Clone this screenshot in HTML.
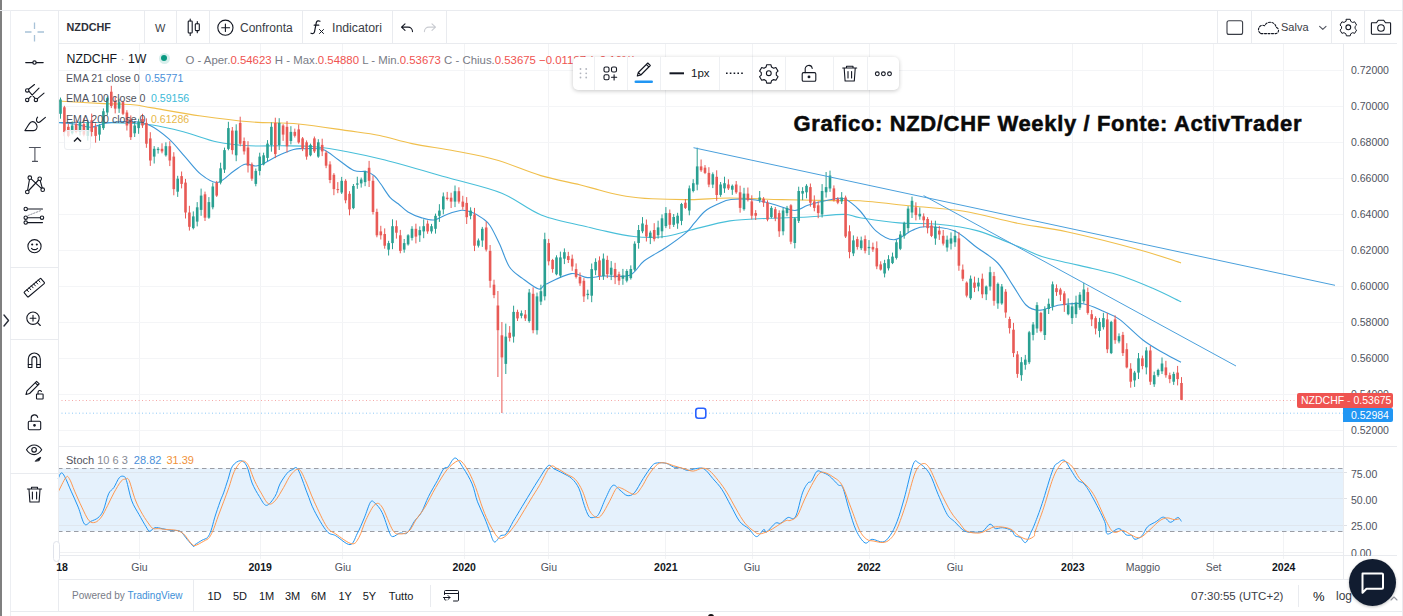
<!DOCTYPE html>
<html><head><meta charset="utf-8">
<style>
*{margin:0;padding:0;box-sizing:border-box}
html,body{width:1403px;height:616px;overflow:hidden;background:#fff;font-family:"Liberation Sans",sans-serif;color:#131722}
.a{position:absolute;white-space:nowrap}
.ln{position:absolute;background:#e9ebef}
.ax{position:absolute;font-size:10.5px;color:#50535e;white-space:nowrap}
.tl{position:absolute;font-size:10.5px;color:#50535e;white-space:nowrap;transform:translateX(-50%)}
.hd{position:absolute;font-size:13px;color:#3a3d46;white-space:nowrap}
.ico{position:absolute}
</style></head><body>
<svg width="1403" height="616" style="position:absolute;left:0;top:0">
<g shape-rendering="crispEdges"><line x1="139.5" y1="44" x2="139.5" y2="559" stroke="#f2f3f5" stroke-width="1"/>
<line x1="260.2" y1="44" x2="260.2" y2="559" stroke="#f2f3f5" stroke-width="1"/>
<line x1="342.9" y1="44" x2="342.9" y2="559" stroke="#f2f3f5" stroke-width="1"/>
<line x1="464.2" y1="44" x2="464.2" y2="559" stroke="#f2f3f5" stroke-width="1"/>
<line x1="548.8" y1="44" x2="548.8" y2="559" stroke="#f2f3f5" stroke-width="1"/>
<line x1="665.8" y1="44" x2="665.8" y2="559" stroke="#f2f3f5" stroke-width="1"/>
<line x1="752" y1="44" x2="752" y2="559" stroke="#f2f3f5" stroke-width="1"/>
<line x1="869" y1="44" x2="869" y2="559" stroke="#f2f3f5" stroke-width="1"/>
<line x1="954.8" y1="44" x2="954.8" y2="559" stroke="#f2f3f5" stroke-width="1"/>
<line x1="1072.8" y1="44" x2="1072.8" y2="559" stroke="#f2f3f5" stroke-width="1"/>
<line x1="1142.9" y1="44" x2="1142.9" y2="559" stroke="#f2f3f5" stroke-width="1"/>
<line x1="1213.6" y1="44" x2="1213.6" y2="559" stroke="#f2f3f5" stroke-width="1"/>
<line x1="1283.7" y1="44" x2="1283.7" y2="559" stroke="#f2f3f5" stroke-width="1"/>
<line x1="58" y1="70" x2="1343" y2="70" stroke="#f4f5f7" stroke-width="1"/>
<line x1="58" y1="106" x2="1343" y2="106" stroke="#f4f5f7" stroke-width="1"/>
<line x1="58" y1="142" x2="1343" y2="142" stroke="#f4f5f7" stroke-width="1"/>
<line x1="58" y1="178" x2="1343" y2="178" stroke="#f4f5f7" stroke-width="1"/>
<line x1="58" y1="214" x2="1343" y2="214" stroke="#f4f5f7" stroke-width="1"/>
<line x1="58" y1="250" x2="1343" y2="250" stroke="#f4f5f7" stroke-width="1"/>
<line x1="58" y1="286" x2="1343" y2="286" stroke="#f4f5f7" stroke-width="1"/>
<line x1="58" y1="322" x2="1343" y2="322" stroke="#f4f5f7" stroke-width="1"/>
<line x1="58" y1="358" x2="1343" y2="358" stroke="#f4f5f7" stroke-width="1"/>
<line x1="58" y1="394" x2="1343" y2="394" stroke="#f4f5f7" stroke-width="1"/>
<line x1="58" y1="430" x2="1343" y2="430" stroke="#f4f5f7" stroke-width="1"/></g>
<rect x="58" y="468.3" width="1285" height="63" fill="#e5f1fc"/>
<g shape-rendering="crispEdges"><line x1="58" y1="472.5" x2="1343" y2="472.5" stroke="#dfe6ee"/><line x1="58" y1="498.5" x2="1343" y2="498.5" stroke="#dfe6ee"/><line x1="58" y1="525.5" x2="1343" y2="525.5" stroke="#dfe6ee"/><line x1="58" y1="552.5" x2="1343" y2="552.5" stroke="#f0f1f3"/>
<line x1="1343" y1="472.5" x2="1347" y2="472.5" stroke="#dfe1e6"/><line x1="1343" y1="498.5" x2="1347" y2="498.5" stroke="#dfe1e6"/><line x1="1343" y1="525.5" x2="1347" y2="525.5" stroke="#dfe1e6"/></g>
<line x1="58" y1="468.5" x2="1343" y2="468.5" stroke="#9a9da5" stroke-width="1" stroke-dasharray="4.5,3.5"/>
<line x1="58" y1="531.5" x2="1343" y2="531.5" stroke="#9a9da5" stroke-width="1" stroke-dasharray="4.5,3.5"/>
<path d="M58.2 478.6 C58.7 477.6 60.1 473.2 61.2 472.9 C62.4 472.6 63.2 473.8 64.8 476.8 C66.5 479.8 68.8 486.0 71.1 491.1 C73.3 496.1 76.0 501.6 78.2 507.1 C80.4 512.6 82.4 521.7 84.5 524.1 C86.5 526.5 88.5 522.5 90.7 521.4 C92.9 520.4 95.8 519.6 97.9 517.9 C99.9 516.1 101.4 514.7 103.2 510.7 C105.0 506.7 106.8 497.6 108.6 493.8 C110.4 489.9 112.1 490.2 113.9 487.5 C115.7 484.8 117.6 479.5 119.3 477.7 C120.9 475.8 122.6 476.0 123.8 476.4 C124.9 476.9 125.1 476.3 126.4 480.4 C127.8 484.4 129.7 495.2 131.8 500.9 C133.9 506.5 136.5 510.0 138.9 514.3 C141.3 518.6 144.3 524.0 146.1 526.8 C147.9 529.6 148.2 531.1 149.6 531.2 C151.1 531.4 152.9 528.1 155.0 527.7 C157.1 527.2 159.5 528.1 162.1 528.6 C164.8 529.0 168.1 529.9 171.1 530.4 C174.0 530.8 177.3 529.8 180.0 531.2 C182.7 532.7 184.9 536.8 187.1 539.3 C189.4 541.8 192.1 545.5 193.4 546.4 C194.7 547.3 193.5 545.7 195.0 544.6 C196.5 543.6 200.1 541.4 202.1 540.2 C204.2 539.0 206.0 539.1 207.5 537.5 C209.0 535.9 209.9 533.6 211.1 530.4 C212.3 527.1 213.2 522.6 214.6 517.9 C216.1 513.1 218.5 506.0 220.0 501.8 C221.5 497.6 222.2 496.6 223.6 492.9 C224.9 489.1 226.5 483.9 228.0 479.5 C229.5 475.0 230.4 469.2 232.5 466.1 C234.6 462.9 238.2 460.7 240.5 460.7 C242.9 460.7 244.9 462.4 246.8 466.1 C248.7 469.8 250.1 478.0 252.1 483.0 C254.2 488.1 256.9 492.7 259.3 496.4 C261.7 500.1 263.8 505.4 266.4 505.4 C269.0 505.4 272.7 500.0 275.0 496.4 C277.3 492.9 278.0 487.8 280.0 483.9 C282.0 480.1 285.1 475.6 287.1 473.2 C289.2 470.8 290.7 470.3 292.5 469.6 C294.3 469.0 295.4 465.4 297.9 469.3 C300.3 473.2 304.4 486.0 307.1 492.9 C309.9 499.8 311.0 504.3 314.3 510.7 C317.6 517.1 323.2 527.1 326.8 531.2 C330.4 535.4 331.8 533.5 335.7 535.7 C339.6 537.9 346.4 544.9 350.0 544.6 C353.6 544.3 354.8 538.4 357.1 533.9 C359.5 529.5 362.1 523.2 364.3 517.9 C366.5 512.6 368.8 504.6 370.5 502.1 C372.3 499.7 373.1 501.5 375.0 503.2 C376.9 504.9 379.8 507.7 382.1 512.5 C384.5 517.3 387.5 528.1 389.3 532.1 C391.1 536.2 391.1 536.5 392.9 536.6 C394.6 536.8 397.6 533.6 400.0 533.0 C402.4 532.4 404.8 535.0 407.1 533.0 C409.5 531.1 411.9 524.9 414.3 521.4 C416.7 518.0 419.0 516.7 421.4 512.5 C423.8 508.3 425.9 501.8 428.6 496.4 C431.2 491.1 435.4 484.2 437.5 480.4 C439.6 476.5 439.9 475.3 441.1 473.2 C442.2 471.1 443.3 468.9 444.5 467.9 C445.6 466.8 446.3 468.6 448.0 467.0 C449.8 465.3 452.6 457.9 455.2 458.0 C457.7 458.2 460.4 463.5 463.2 467.9 C466.0 472.2 469.8 478.3 472.1 483.9 C474.5 489.6 475.4 496.1 477.5 501.8 C479.6 507.4 482.6 512.8 484.6 517.9 C486.7 522.9 488.4 528.1 490.0 532.1 C491.6 536.2 492.7 541.4 494.5 542.0 C496.2 542.6 498.8 537.1 500.7 535.7 C502.6 534.4 504.0 536.3 506.1 533.9 C508.2 531.5 511.0 525.3 513.2 521.4 C515.5 517.6 516.8 515.5 519.6 510.7 C522.5 506.0 527.1 498.2 530.4 492.9 C533.6 487.5 536.3 483.1 539.3 478.6 C542.3 474.0 545.8 467.4 548.2 465.7 C550.7 464.1 551.5 467.5 553.9 468.8 C556.4 470.0 559.9 471.6 562.9 473.2 C565.8 474.9 569.1 476.0 571.8 478.6 C574.5 481.1 576.8 483.9 578.9 488.4 C581.0 492.9 582.6 500.7 584.3 505.4 C585.9 510.0 587.3 514.0 588.8 516.1 C590.2 518.1 591.6 517.8 593.2 517.5 C594.9 517.2 596.5 517.5 598.6 514.3 C600.7 511.1 603.3 503.0 605.7 498.2 C608.1 493.4 610.5 486.7 612.9 485.4 C615.2 484.0 617.6 488.5 620.0 490.2 C622.4 491.9 624.8 495.1 627.1 495.5 C629.5 496.0 631.6 495.7 634.3 492.9 C637.0 490.0 640.2 483.1 643.2 478.6 C646.2 474.0 649.8 468.3 652.1 465.7 C654.5 463.1 655.1 463.2 657.5 462.9 C659.9 462.5 663.8 462.7 666.4 463.4 C669.1 464.1 671.2 466.2 673.6 467.0 C676.0 467.7 678.3 467.3 680.7 467.9 C683.1 468.5 685.5 470.4 687.9 470.5 C690.2 470.7 692.3 469.0 695.0 468.8 C697.7 468.5 701.0 467.1 703.9 468.8 C706.9 470.4 709.9 475.1 712.9 478.6 C715.8 482.0 718.8 484.8 721.8 489.3 C724.8 493.8 727.7 500.0 730.7 505.4 C733.7 510.7 736.7 517.6 739.6 521.4 C742.6 525.3 745.7 526.0 748.6 528.6 C751.4 531.1 754.1 536.5 756.6 536.6 C759.1 536.8 762.1 530.2 763.8 529.5 C765.4 528.7 764.5 533.2 766.4 532.1 C768.4 531.1 773.0 524.7 775.4 523.2 C777.7 521.7 778.6 524.2 780.7 523.2 C782.8 522.3 785.4 518.5 787.9 517.5 C790.3 516.5 792.9 521.1 795.4 517.0 C797.8 512.9 800.4 498.5 802.5 492.9 C804.6 487.2 806.4 485.0 807.9 483.0 C809.3 481.1 809.9 483.2 811.4 481.2 C812.9 479.3 815.0 472.9 816.8 471.4 C818.6 469.9 820.1 471.6 822.1 472.3 C824.2 473.1 826.6 473.8 829.3 475.9 C832.0 478.0 836.0 482.9 838.2 484.8 C840.4 486.8 840.9 483.5 842.7 487.5 C844.5 491.5 846.7 501.8 848.9 508.9 C851.2 516.1 853.4 524.7 856.1 530.4 C858.8 536.0 862.3 541.4 865.0 542.9 C867.7 544.3 869.2 539.4 872.1 539.3 C875.1 539.1 879.9 542.6 882.9 542.0 C885.8 541.4 887.6 539.1 890.0 535.7 C892.4 532.3 894.8 527.7 897.1 521.4 C899.5 515.2 901.6 507.7 904.3 498.2 C907.0 488.7 910.8 470.2 913.2 464.3 C915.6 458.4 915.9 461.4 918.6 462.9 C921.2 464.3 926.0 467.9 929.3 473.2 C932.6 478.5 935.2 487.8 938.2 494.6 C941.2 501.5 944.5 509.8 947.1 514.3 C949.8 518.8 951.3 518.6 954.3 521.4 C957.3 524.3 961.4 529.5 965.0 531.2 C968.6 533.0 972.7 532.1 975.7 532.1 C978.7 532.1 980.5 532.6 982.9 531.2 C985.2 529.9 987.9 524.6 990.0 524.1 C992.1 523.7 993.3 528.0 995.4 528.6 C997.4 529.2 999.8 527.4 1002.5 527.7 C1005.2 528.0 1009.3 529.0 1011.4 530.4 C1013.5 531.7 1013.5 534.5 1015.0 535.7 C1016.5 536.9 1018.6 536.4 1020.4 537.5 C1022.1 538.6 1023.9 543.4 1025.7 542.5 C1027.5 541.6 1029.5 535.4 1031.1 532.1 C1032.6 528.9 1033.2 528.0 1035.0 523.2 C1036.8 518.5 1039.2 512.5 1042.1 503.6 C1045.1 494.6 1050.2 476.4 1052.9 469.6 C1055.5 462.9 1056.3 464.4 1058.2 462.9 C1060.1 461.3 1062.4 459.2 1064.5 460.4 C1066.5 461.5 1068.5 466.3 1070.7 469.6 C1072.9 473.0 1075.6 478.0 1077.9 480.4 C1080.1 482.7 1081.7 481.2 1084.1 483.9 C1086.5 486.6 1088.7 490.2 1092.1 496.4 C1095.6 502.7 1102.1 515.2 1104.6 521.4 C1107.2 527.7 1104.9 532.7 1107.3 533.9 C1109.7 535.1 1115.8 528.4 1118.9 528.6 C1122.1 528.7 1124.0 533.7 1126.1 534.8 C1128.2 536.0 1129.9 534.6 1131.4 535.4 C1132.9 536.1 1133.2 539.2 1135.0 539.3 C1136.8 539.3 1140.1 537.8 1142.1 535.7 C1144.2 533.6 1145.1 529.2 1147.5 526.8 C1149.9 524.4 1154.0 523.0 1156.4 521.4 C1158.8 519.9 1160.3 518.1 1161.8 517.5 C1163.3 516.9 1163.9 517.1 1165.4 517.9 C1166.8 518.7 1168.6 522.4 1170.7 522.3 C1172.8 522.3 1176.1 517.6 1177.9 517.5 C1179.6 517.4 1180.8 520.8 1181.4 521.4" fill="none" stroke="#2196f3" stroke-width="1"/>
<path d="M58.2 492.0 C59.5 489.6 63.9 479.9 65.7 477.7 C67.6 475.4 67.8 476.3 69.3 478.6 C70.8 480.8 72.6 486.3 74.6 491.1 C76.7 495.8 79.4 502.2 81.8 507.1 C84.2 512.1 86.7 518.0 88.9 520.5 C91.2 523.1 93.1 522.9 95.2 522.3 C97.3 521.7 99.3 519.8 101.4 517.0 C103.5 514.1 105.6 509.4 107.7 505.4 C109.8 501.3 111.7 496.9 113.9 492.9 C116.2 488.8 119.1 483.5 121.1 481.2 C123.0 479.0 124.2 479.3 125.5 479.1 C126.9 479.0 127.5 476.9 129.1 480.4 C130.7 483.8 133.1 494.3 135.4 500.0 C137.6 505.7 140.1 510.1 142.5 514.3 C144.9 518.5 147.9 522.6 149.6 525.0 C151.4 527.4 151.7 528.0 153.2 528.6 C154.7 529.2 156.5 528.4 158.6 528.6 C160.7 528.7 162.7 529.2 165.7 529.5 C168.7 529.8 173.5 529.6 176.4 530.4 C179.4 531.1 181.2 531.8 183.6 533.9 C186.0 536.0 188.8 540.9 190.7 542.9 C192.6 544.8 192.8 545.8 195.0 545.5 C197.2 545.2 201.5 542.4 203.9 541.1 C206.3 539.7 207.6 539.6 209.3 537.5 C210.9 535.4 212.3 532.1 213.8 528.6 C215.2 525.0 216.6 520.5 218.2 516.1 C219.9 511.6 221.8 506.5 223.6 501.8 C225.4 497.0 227.1 492.6 228.9 487.5 C230.7 482.4 232.2 475.7 234.3 471.4 C236.4 467.1 239.2 462.8 241.4 461.6 C243.7 460.4 245.4 461.0 247.7 464.3 C249.9 467.6 252.6 476.5 254.8 481.2 C257.1 486.0 258.8 489.1 261.1 492.9 C263.3 496.6 265.9 502.2 268.2 503.6 C270.5 504.9 272.4 503.6 275.0 500.9 C277.6 498.2 281.0 491.8 283.6 487.5 C286.2 483.2 288.2 478.0 290.7 475.0 C293.2 472.0 296.3 468.4 298.8 469.3 C301.2 470.2 302.8 474.9 305.4 480.4 C307.9 485.8 310.7 494.0 314.3 501.8 C317.9 509.5 323.2 521.4 326.8 526.8 C330.4 532.1 331.5 531.1 335.7 533.9 C339.9 536.8 347.9 543.2 351.8 543.8 C355.7 544.3 356.5 541.5 358.9 537.5 C361.3 533.5 363.4 525.1 366.1 519.6 C368.8 514.1 372.3 506.5 375.0 504.5 C377.7 502.4 379.2 502.8 382.1 507.1 C385.1 511.5 389.9 525.9 392.9 530.4 C395.8 534.8 397.3 533.8 400.0 533.9 C402.7 534.1 406.2 533.6 408.9 531.2 C411.6 528.9 413.4 523.7 416.1 519.6 C418.8 515.6 421.7 512.5 425.0 507.1 C428.3 501.8 432.0 493.8 435.7 487.5 C439.4 481.2 443.5 474.1 447.1 469.6 C450.8 465.2 455.2 461.8 457.9 460.7 C460.5 459.7 461.3 461.3 463.2 463.4 C465.1 465.5 467.4 469.2 469.5 473.2 C471.5 477.2 473.5 481.5 475.7 487.5 C477.9 493.5 480.5 502.7 482.9 508.9 C485.2 515.2 487.6 520.4 490.0 525.0 C492.4 529.6 495.2 534.4 497.1 536.6 C499.1 538.8 499.8 538.8 501.6 538.4 C503.4 537.9 505.6 536.2 507.9 533.9 C510.1 531.7 513.0 527.7 515.0 525.0 C517.0 522.3 517.1 522.0 519.6 517.9 C522.2 513.7 527.1 505.4 530.4 500.0 C533.6 494.6 536.0 491.2 539.3 485.7 C542.6 480.2 547.0 469.8 550.0 467.0 C553.0 464.1 554.8 467.6 557.5 468.8 C560.2 469.9 563.5 472.3 566.4 474.1 C569.4 475.9 572.7 476.6 575.4 479.5 C578.0 482.3 580.1 485.9 582.5 491.1 C584.9 496.3 587.3 506.3 589.6 510.7 C592.0 515.1 594.7 516.9 596.8 517.5 C598.9 518.1 600.1 516.9 602.1 514.3 C604.2 511.7 606.9 506.1 609.3 501.8 C611.7 497.5 614.3 490.6 616.4 488.4 C618.5 486.2 618.8 487.4 621.8 488.4 C624.8 489.4 631.0 494.4 634.3 494.3 C637.6 494.1 639.0 490.7 641.4 487.5 C643.8 484.3 645.9 478.9 648.6 475.0 C651.2 471.1 654.8 466.3 657.5 464.3 C660.2 462.3 662.0 462.6 664.6 462.9 C667.3 463.1 670.3 464.7 673.6 465.7 C676.8 466.7 681.0 467.9 684.3 468.8 C687.6 469.6 690.2 471.2 693.2 471.1 C696.2 471.0 699.5 468.3 702.1 468.2 C704.8 468.1 706.6 468.5 709.3 470.5 C712.0 472.6 715.2 476.6 718.2 480.4 C721.2 484.1 724.2 488.1 727.1 492.9 C730.1 497.6 733.1 503.9 736.1 508.9 C739.0 514.0 742.0 519.5 745.0 523.2 C748.0 526.9 751.5 529.5 753.9 531.2 C756.3 533.0 756.9 533.9 759.3 533.9 C761.7 533.9 765.2 532.6 768.2 531.2 C771.2 529.9 774.2 527.7 777.1 525.9 C780.1 524.1 783.9 521.4 786.1 520.5 C788.2 519.6 788.2 521.3 790.0 520.5 C791.8 519.8 794.8 519.5 797.1 516.1 C799.5 512.6 801.9 505.1 804.3 500.0 C806.7 494.9 809.0 490.0 811.4 485.7 C813.8 481.4 816.5 476.3 818.6 474.1 C820.7 471.9 821.5 471.9 823.9 472.3 C826.3 472.8 829.9 474.7 832.9 476.8 C835.8 478.9 838.8 479.8 841.8 484.8 C844.8 489.9 847.7 499.6 850.7 507.1 C853.7 514.7 857.0 525.0 859.6 530.4 C862.3 535.7 864.4 537.5 866.8 539.3 C869.2 541.1 871.2 540.5 873.9 541.1 C876.6 541.6 880.2 542.8 882.9 542.5 C885.5 542.2 887.6 541.6 890.0 539.3 C892.4 537.0 894.5 534.5 897.1 528.6 C899.8 522.6 903.1 512.8 906.1 503.6 C909.0 494.3 912.3 479.8 915.0 473.2 C917.7 466.6 919.8 464.8 922.1 463.9 C924.5 463.0 926.3 463.3 929.3 467.9 C932.3 472.4 936.4 483.8 940.0 491.1 C943.6 498.4 947.4 506.2 950.7 511.6 C954.0 517.0 957.0 519.9 959.6 523.2 C962.3 526.5 963.5 529.6 966.8 531.2 C970.1 532.9 975.7 533.3 979.3 533.0 C982.9 532.7 985.5 530.5 988.2 529.5 C990.9 528.4 991.8 526.9 995.4 526.8 C998.9 526.6 1005.8 527.1 1009.6 528.6 C1013.5 530.1 1015.6 533.9 1018.6 535.7 C1021.5 537.5 1024.8 539.3 1027.5 539.3 C1030.2 539.3 1033.4 536.9 1034.6 535.7 C1035.9 534.5 1033.5 536.9 1035.0 532.1 C1036.5 527.4 1041.0 516.1 1043.9 507.1 C1046.9 498.2 1050.2 485.6 1052.9 478.6 C1055.5 471.6 1057.9 468.0 1060.0 465.2 C1062.1 462.4 1063.3 461.3 1065.4 461.6 C1067.4 461.9 1070.1 464.1 1072.5 467.0 C1074.9 469.8 1077.0 475.1 1079.6 478.6 C1082.3 482.0 1085.9 484.2 1088.6 487.5 C1091.2 490.8 1092.7 492.6 1095.7 498.2 C1098.7 503.9 1103.5 515.8 1106.4 521.4 C1109.4 527.1 1110.9 530.7 1113.6 532.1 C1116.2 533.6 1119.8 530.1 1122.5 530.4 C1125.2 530.7 1127.3 532.7 1129.6 533.9 C1132.0 535.1 1134.7 537.1 1136.8 537.5 C1138.9 537.9 1139.8 538.1 1142.1 536.6 C1144.5 535.1 1148.1 531.2 1151.1 528.6 C1154.0 525.9 1157.3 522.3 1160.0 520.5 C1162.7 518.8 1164.8 518.0 1167.1 517.9 C1169.5 517.7 1172.2 519.5 1174.3 519.6 C1176.4 519.8 1178.8 518.9 1179.6 518.8" fill="none" stroke="#ff9850" stroke-width="1"/>
<line x1="58" y1="400.5" x2="1343" y2="400.5" stroke="#ef5350" stroke-width="1" stroke-dasharray="1,2.5" opacity="0.5"/>
<line x1="58" y1="413.2" x2="1343" y2="413.2" stroke="#2196f3" stroke-width="1" stroke-dasharray="1,2.5" opacity="0.5"/>
<path d="M58.0 101.0 C65.6 101.4 91.2 103.0 103.7 103.6 C116.2 104.2 124.9 104.0 133.0 104.7 C141.1 105.4 141.1 106.0 152.4 107.9 C163.7 109.8 184.8 113.7 201.0 116.0 C217.2 118.3 233.6 120.5 249.8 121.8 C266.1 123.1 282.3 122.5 298.5 124.0 C314.7 125.5 333.7 128.7 347.2 130.6 C360.7 132.5 368.9 133.3 379.7 135.5 C390.5 137.7 399.4 141.0 412.0 143.6 C424.6 146.2 440.9 148.3 455.0 151.0 C469.1 153.7 482.3 155.9 496.6 160.0 C510.9 164.1 526.9 171.5 540.8 175.6 C554.6 179.7 569.8 182.2 579.7 184.7 C589.6 187.1 592.3 188.4 600.0 190.3 C607.7 192.2 617.3 194.8 626.0 196.2 C634.7 197.6 641.2 198.2 652.0 198.8 C662.8 199.4 678.0 199.7 691.0 199.6 C704.0 199.5 714.8 198.0 729.9 198.0 C745.0 198.0 764.5 199.2 781.8 199.6 C799.1 200.0 820.8 200.4 833.8 200.6 C846.8 200.8 847.0 199.9 860.0 200.8 C873.0 201.7 894.7 204.3 912.0 206.0 C929.3 207.7 946.7 208.4 964.0 211.2 C981.3 214.0 998.5 219.4 1015.8 222.9 C1033.1 226.4 1047.1 227.5 1067.8 232.0 C1088.5 236.5 1121.1 244.8 1140.0 250.0 C1158.9 255.2 1174.2 260.8 1181.0 262.9" fill="none" stroke="#f0bf4c" stroke-width="1.1"/>
<path d="M58.0 122.5 C62.9 122.5 77.2 122.4 87.5 122.5 C97.8 122.6 109.2 122.6 120.0 123.0 C130.8 123.4 141.6 123.5 152.4 125.0 C163.2 126.5 174.1 129.4 184.9 132.2 C195.7 135.0 206.5 139.7 217.3 142.0 C228.1 144.3 239.0 145.2 249.8 145.8 C260.6 146.4 271.5 145.6 282.3 145.8 C293.1 146.0 303.9 145.8 314.7 146.8 C325.5 147.8 335.5 149.5 347.2 151.7 C358.9 153.9 367.9 155.6 385.0 160.0 C402.1 164.4 430.4 172.7 449.9 178.2 C469.4 183.7 486.5 187.0 501.8 193.2 C517.1 199.4 527.1 209.5 541.8 215.2 C556.5 220.9 580.3 225.0 590.0 227.5 C599.7 230.0 592.7 228.5 600.0 230.0 C607.3 231.5 623.0 235.4 633.8 236.5 C644.6 237.6 655.5 237.6 665.0 236.5 C674.5 235.4 680.2 232.6 691.0 230.0 C701.8 227.4 716.9 222.8 729.9 220.9 C742.9 219.0 755.8 219.0 768.8 218.3 C781.8 217.7 795.3 217.7 807.8 217.0 C820.3 216.3 835.3 214.3 844.0 214.4 C852.7 214.5 850.8 216.3 860.0 217.7 C869.2 219.1 886.0 221.8 899.0 222.9 C912.0 224.0 925.0 222.9 938.0 224.2 C951.0 225.5 963.2 226.8 976.9 230.6 C990.6 234.4 1009.2 243.0 1020.0 247.3 C1030.8 251.6 1033.7 253.8 1041.8 256.4 C1049.9 259.0 1060.0 261.0 1068.5 263.0 C1077.0 265.0 1083.6 266.3 1092.7 268.5 C1101.8 270.7 1112.9 273.1 1123.0 276.4 C1133.1 279.7 1143.6 284.3 1153.3 288.5 C1163.0 292.7 1176.5 299.6 1181.2 301.8" fill="none" stroke="#48bfd9" stroke-width="1.1"/>
<path d="M58.0 122.5 C60.8 122.8 69.0 123.2 74.5 124.0 C80.0 124.8 85.3 127.5 90.7 127.3 C96.1 127.1 100.0 123.9 107.0 123.0 C114.0 122.1 126.0 121.5 133.0 121.8 C140.0 122.1 143.3 122.2 149.2 125.0 C155.1 127.8 162.6 133.4 168.6 138.7 C174.6 144.0 179.5 150.6 184.9 156.6 C190.3 162.6 195.6 170.1 201.0 174.4 C206.4 178.7 211.9 183.0 217.3 182.5 C222.7 182.0 229.0 174.2 233.6 171.2 C238.2 168.2 241.1 165.2 244.9 164.3 C248.7 163.4 252.9 166.2 256.2 166.0 C259.4 165.8 260.9 165.0 264.4 163.3 C267.9 161.6 272.5 158.3 277.4 156.0 C282.3 153.7 289.3 150.7 293.6 149.5 C297.9 148.3 298.4 148.7 303.3 148.7 C308.2 148.7 317.0 147.7 322.8 149.5 C328.6 151.3 332.8 156.0 338.0 159.5 C343.2 163.0 349.0 168.4 353.8 170.4 C358.6 172.4 363.4 170.8 366.8 171.7 C370.2 172.6 372.2 174.0 374.5 176.0 C376.8 178.0 378.0 180.2 380.6 183.8 C383.2 187.4 387.1 194.0 390.0 197.3 C392.9 200.6 395.2 201.4 398.2 203.8 C401.2 206.2 404.2 209.7 408.0 212.0 C411.8 214.3 416.7 216.3 421.0 217.6 C425.3 218.9 429.7 220.5 434.0 220.0 C438.3 219.5 442.3 216.0 446.9 214.4 C451.5 212.8 457.4 210.7 461.5 210.3 C465.6 209.9 467.7 210.7 471.2 212.0 C474.7 213.3 479.5 216.2 482.6 218.4 C485.7 220.7 487.1 221.2 490.0 225.5 C492.9 229.8 496.4 237.4 499.7 244.3 C502.9 251.2 505.7 261.3 509.5 267.0 C513.3 272.7 517.6 274.7 522.5 278.4 C527.4 282.1 534.8 288.1 538.7 289.0 C542.6 289.9 540.6 286.7 546.0 284.1 C551.4 281.5 564.3 274.7 571.2 273.6 C578.1 272.5 582.0 277.2 587.4 277.6 C592.8 278.0 596.6 276.4 603.6 276.0 C610.6 275.6 622.9 277.7 629.6 275.2 C636.3 272.7 637.9 265.6 644.0 261.0 C650.1 256.4 659.1 252.1 666.0 247.5 C672.9 242.9 680.8 237.3 685.5 233.2 C690.2 229.1 691.2 226.6 694.5 222.9 C697.8 219.2 701.1 214.3 705.0 211.2 C708.9 208.0 713.7 205.9 718.0 204.0 C722.3 202.1 724.7 200.2 731.0 199.5 C737.3 198.8 748.2 199.0 755.8 200.0 C763.4 201.0 770.1 203.6 776.6 205.3 C783.1 207.1 789.6 210.5 794.8 210.5 C800.0 210.5 802.2 207.1 807.8 205.3 C813.4 203.6 822.5 201.1 828.6 200.0 C834.7 198.9 839.0 197.1 844.2 198.8 C849.4 200.6 854.5 205.2 859.7 210.5 C864.9 215.8 869.9 225.7 875.6 230.6 C881.3 235.5 887.7 239.7 893.8 239.7 C899.9 239.7 906.8 232.8 912.0 230.6 C917.2 228.4 918.1 226.8 925.0 226.8 C931.9 226.8 944.9 227.2 953.5 230.6 C962.1 234.0 969.5 242.1 976.9 247.5 C984.3 252.9 991.7 256.6 997.7 263.0 C1003.7 269.4 1008.3 278.6 1013.0 285.6 C1017.7 292.6 1021.7 300.9 1026.0 305.0 C1030.3 309.1 1033.4 310.3 1039.0 310.3 C1044.6 310.3 1052.4 306.1 1059.7 305.0 C1067.0 303.9 1075.6 302.7 1083.0 303.8 C1090.4 304.9 1097.8 309.0 1103.9 311.6 C1110.0 314.2 1113.0 314.7 1119.5 319.4 C1126.0 324.1 1135.6 334.4 1142.9 340.0 C1150.2 345.6 1157.2 349.3 1163.6 353.0 C1169.9 356.7 1178.1 360.7 1181.0 362.2" fill="none" stroke="#3d97d8" stroke-width="1.1"/>
<g><line x1="60.5" y1="97.6" x2="60.5" y2="118.7" stroke="#2aa092" stroke-width="1"/>
<rect x="59.2" y="99.5" width="2.6" height="14.3" fill="#2aa092"/>
<line x1="64.4" y1="105.8" x2="64.4" y2="136.2" stroke="#e85a56" stroke-width="1"/>
<rect x="63.1" y="107.3" width="2.6" height="24.7" fill="#e85a56"/>
<line x1="68.3" y1="123.6" x2="68.3" y2="137.2" stroke="#e85a56" stroke-width="1"/>
<rect x="67.0" y="126.8" width="2.6" height="9.1" fill="#e85a56"/>
<line x1="72.2" y1="121.4" x2="72.2" y2="134.5" stroke="#2aa092" stroke-width="1"/>
<rect x="70.9" y="125.5" width="2.6" height="7.8" fill="#2aa092"/>
<line x1="76.1" y1="120.6" x2="76.1" y2="133.4" stroke="#e85a56" stroke-width="1"/>
<rect x="74.8" y="124.2" width="2.6" height="7.8" fill="#e85a56"/>
<line x1="80.0" y1="121.3" x2="80.0" y2="135.5" stroke="#2aa092" stroke-width="1"/>
<rect x="78.7" y="122.9" width="2.6" height="9.1" fill="#2aa092"/>
<line x1="83.9" y1="118.2" x2="83.9" y2="136.3" stroke="#e85a56" stroke-width="1"/>
<rect x="82.6" y="124.2" width="2.6" height="10.4" fill="#e85a56"/>
<line x1="87.8" y1="120.5" x2="87.8" y2="140.6" stroke="#2aa092" stroke-width="1"/>
<rect x="86.5" y="122.9" width="2.6" height="13.0" fill="#2aa092"/>
<line x1="91.7" y1="113.6" x2="91.7" y2="136.4" stroke="#e85a56" stroke-width="1"/>
<rect x="90.4" y="120.3" width="2.6" height="11.7" fill="#e85a56"/>
<line x1="95.6" y1="123.4" x2="95.6" y2="142.7" stroke="#e85a56" stroke-width="1"/>
<rect x="94.3" y="126.8" width="2.6" height="9.1" fill="#e85a56"/>
<line x1="99.5" y1="124.2" x2="99.5" y2="140.7" stroke="#2aa092" stroke-width="1"/>
<rect x="98.2" y="125.5" width="2.6" height="9.1" fill="#2aa092"/>
<line x1="103.4" y1="108.4" x2="103.4" y2="129.9" stroke="#2aa092" stroke-width="1"/>
<rect x="102.1" y="111.2" width="2.6" height="16.9" fill="#2aa092"/>
<line x1="107.3" y1="96.5" x2="107.3" y2="115.3" stroke="#2aa092" stroke-width="1"/>
<rect x="106.0" y="98.2" width="2.6" height="14.3" fill="#2aa092"/>
<line x1="111.3" y1="85.8" x2="111.3" y2="108.1" stroke="#e85a56" stroke-width="1"/>
<rect x="110.0" y="91.7" width="2.6" height="14.3" fill="#e85a56"/>
<line x1="115.2" y1="96.3" x2="115.2" y2="113.4" stroke="#e85a56" stroke-width="1"/>
<rect x="113.9" y="100.8" width="2.6" height="7.8" fill="#e85a56"/>
<line x1="119.1" y1="98.8" x2="119.1" y2="112.9" stroke="#2aa092" stroke-width="1"/>
<rect x="117.8" y="102.1" width="2.6" height="6.5" fill="#2aa092"/>
<line x1="123.0" y1="100.7" x2="123.0" y2="115.1" stroke="#e85a56" stroke-width="1"/>
<rect x="121.7" y="102.1" width="2.6" height="11.7" fill="#e85a56"/>
<line x1="126.9" y1="110.2" x2="126.9" y2="130.5" stroke="#e85a56" stroke-width="1"/>
<rect x="125.6" y="112.5" width="2.6" height="13.0" fill="#e85a56"/>
<line x1="130.8" y1="115.4" x2="130.8" y2="140.0" stroke="#e85a56" stroke-width="1"/>
<rect x="129.5" y="119.0" width="2.6" height="18.2" fill="#e85a56"/>
<line x1="134.7" y1="120.9" x2="134.7" y2="137.0" stroke="#2aa092" stroke-width="1"/>
<rect x="133.4" y="125.5" width="2.6" height="7.8" fill="#2aa092"/>
<line x1="138.6" y1="118.8" x2="138.6" y2="133.8" stroke="#2aa092" stroke-width="1"/>
<rect x="137.3" y="121.6" width="2.6" height="6.5" fill="#2aa092"/>
<line x1="142.5" y1="113.8" x2="142.5" y2="127.9" stroke="#e85a56" stroke-width="1"/>
<rect x="141.2" y="119.0" width="2.6" height="6.5" fill="#e85a56"/>
<line x1="146.4" y1="118.4" x2="146.4" y2="147.8" stroke="#e85a56" stroke-width="1"/>
<rect x="145.1" y="122.9" width="2.6" height="20.8" fill="#e85a56"/>
<line x1="150.3" y1="132.2" x2="150.3" y2="165.9" stroke="#e85a56" stroke-width="1"/>
<rect x="149.0" y="138.4" width="2.6" height="22.1" fill="#e85a56"/>
<line x1="154.2" y1="146.1" x2="154.2" y2="163.5" stroke="#2aa092" stroke-width="1"/>
<rect x="152.9" y="148.8" width="2.6" height="7.8" fill="#2aa092"/>
<line x1="158.1" y1="147.1" x2="158.1" y2="153.6" stroke="#2aa092" stroke-width="1"/>
<rect x="156.8" y="148.8" width="2.6" height="1.3" fill="#2aa092"/>
<line x1="162.0" y1="143.3" x2="162.0" y2="153.3" stroke="#e85a56" stroke-width="1"/>
<rect x="160.7" y="148.8" width="2.6" height="2.6" fill="#e85a56"/>
<line x1="165.9" y1="142.3" x2="165.9" y2="156.6" stroke="#2aa092" stroke-width="1"/>
<rect x="164.6" y="146.2" width="2.6" height="9.1" fill="#2aa092"/>
<line x1="169.8" y1="141.2" x2="169.8" y2="166.1" stroke="#e85a56" stroke-width="1"/>
<rect x="168.5" y="146.2" width="2.6" height="14.3" fill="#e85a56"/>
<line x1="173.8" y1="152.2" x2="173.8" y2="195.3" stroke="#e85a56" stroke-width="1"/>
<rect x="172.5" y="156.6" width="2.6" height="32.5" fill="#e85a56"/>
<line x1="177.7" y1="175.8" x2="177.7" y2="196.9" stroke="#2aa092" stroke-width="1"/>
<rect x="176.4" y="178.7" width="2.6" height="13.0" fill="#2aa092"/>
<line x1="181.6" y1="171.5" x2="181.6" y2="188.4" stroke="#e85a56" stroke-width="1"/>
<rect x="180.3" y="176.1" width="2.6" height="7.8" fill="#e85a56"/>
<line x1="185.5" y1="178.9" x2="185.5" y2="218.5" stroke="#e85a56" stroke-width="1"/>
<rect x="184.2" y="182.6" width="2.6" height="29.9" fill="#e85a56"/>
<line x1="189.4" y1="205.8" x2="189.4" y2="230.6" stroke="#e85a56" stroke-width="1"/>
<rect x="188.1" y="212.5" width="2.6" height="14.3" fill="#e85a56"/>
<line x1="193.3" y1="211.4" x2="193.3" y2="229.4" stroke="#2aa092" stroke-width="1"/>
<rect x="192.0" y="216.4" width="2.6" height="11.7" fill="#2aa092"/>
<line x1="197.2" y1="202.1" x2="197.2" y2="226.4" stroke="#2aa092" stroke-width="1"/>
<rect x="195.9" y="207.3" width="2.6" height="14.3" fill="#2aa092"/>
<line x1="201.1" y1="188.6" x2="201.1" y2="215.8" stroke="#2aa092" stroke-width="1"/>
<rect x="199.8" y="195.6" width="2.6" height="14.3" fill="#2aa092"/>
<line x1="205.0" y1="191.6" x2="205.0" y2="221.0" stroke="#e85a56" stroke-width="1"/>
<rect x="203.7" y="194.3" width="2.6" height="23.4" fill="#e85a56"/>
<line x1="208.9" y1="197.1" x2="208.9" y2="218.8" stroke="#2aa092" stroke-width="1"/>
<rect x="207.6" y="202.1" width="2.6" height="15.6" fill="#2aa092"/>
<line x1="212.8" y1="182.7" x2="212.8" y2="209.3" stroke="#2aa092" stroke-width="1"/>
<rect x="211.5" y="186.5" width="2.6" height="20.8" fill="#2aa092"/>
<line x1="216.7" y1="180.9" x2="216.7" y2="196.9" stroke="#e85a56" stroke-width="1"/>
<rect x="215.4" y="182.6" width="2.6" height="13.0" fill="#e85a56"/>
<line x1="220.6" y1="162.7" x2="220.6" y2="184.4" stroke="#2aa092" stroke-width="1"/>
<rect x="219.3" y="168.3" width="2.6" height="14.3" fill="#2aa092"/>
<line x1="224.5" y1="147.6" x2="224.5" y2="173.0" stroke="#2aa092" stroke-width="1"/>
<rect x="223.2" y="150.1" width="2.6" height="19.5" fill="#2aa092"/>
<line x1="228.4" y1="121.8" x2="228.4" y2="150.3" stroke="#2aa092" stroke-width="1"/>
<rect x="227.1" y="128.1" width="2.6" height="20.8" fill="#2aa092"/>
<line x1="232.3" y1="127.0" x2="232.3" y2="154.4" stroke="#e85a56" stroke-width="1"/>
<rect x="231.0" y="130.6" width="2.6" height="19.5" fill="#e85a56"/>
<line x1="236.2" y1="124.3" x2="236.2" y2="161.2" stroke="#2aa092" stroke-width="1"/>
<rect x="234.9" y="130.6" width="2.6" height="24.7" fill="#2aa092"/>
<line x1="240.2" y1="116.7" x2="240.2" y2="146.3" stroke="#e85a56" stroke-width="1"/>
<rect x="238.9" y="122.9" width="2.6" height="20.8" fill="#e85a56"/>
<line x1="244.1" y1="137.5" x2="244.1" y2="154.6" stroke="#e85a56" stroke-width="1"/>
<rect x="242.8" y="141.0" width="2.6" height="10.4" fill="#e85a56"/>
<line x1="248.0" y1="141.2" x2="248.0" y2="172.5" stroke="#e85a56" stroke-width="1"/>
<rect x="246.7" y="147.5" width="2.6" height="18.2" fill="#e85a56"/>
<line x1="251.9" y1="162.5" x2="251.9" y2="180.8" stroke="#e85a56" stroke-width="1"/>
<rect x="250.6" y="164.4" width="2.6" height="14.3" fill="#e85a56"/>
<line x1="255.8" y1="168.5" x2="255.8" y2="186.3" stroke="#2aa092" stroke-width="1"/>
<rect x="254.5" y="170.9" width="2.6" height="13.0" fill="#2aa092"/>
<line x1="259.7" y1="152.7" x2="259.7" y2="175.4" stroke="#2aa092" stroke-width="1"/>
<rect x="258.4" y="156.6" width="2.6" height="14.3" fill="#2aa092"/>
<line x1="263.6" y1="152.7" x2="263.6" y2="165.4" stroke="#2aa092" stroke-width="1"/>
<rect x="262.3" y="155.3" width="2.6" height="9.1" fill="#2aa092"/>
<line x1="267.5" y1="140.1" x2="267.5" y2="161.1" stroke="#2aa092" stroke-width="1"/>
<rect x="266.2" y="143.6" width="2.6" height="14.3" fill="#2aa092"/>
<line x1="271.4" y1="122.4" x2="271.4" y2="151.7" stroke="#2aa092" stroke-width="1"/>
<rect x="270.1" y="126.8" width="2.6" height="18.2" fill="#2aa092"/>
<line x1="275.3" y1="117.7" x2="275.3" y2="158.1" stroke="#e85a56" stroke-width="1"/>
<rect x="274.0" y="122.9" width="2.6" height="31.2" fill="#e85a56"/>
<line x1="279.2" y1="118.2" x2="279.2" y2="150.0" stroke="#2aa092" stroke-width="1"/>
<rect x="277.9" y="122.9" width="2.6" height="22.1" fill="#2aa092"/>
<line x1="283.1" y1="124.1" x2="283.1" y2="140.9" stroke="#e85a56" stroke-width="1"/>
<rect x="281.8" y="125.5" width="2.6" height="9.1" fill="#e85a56"/>
<line x1="287.0" y1="121.1" x2="287.0" y2="152.5" stroke="#e85a56" stroke-width="1"/>
<rect x="285.7" y="126.8" width="2.6" height="19.5" fill="#e85a56"/>
<line x1="290.9" y1="126.2" x2="290.9" y2="144.4" stroke="#2aa092" stroke-width="1"/>
<rect x="289.6" y="131.9" width="2.6" height="9.1" fill="#2aa092"/>
<line x1="294.8" y1="128.6" x2="294.8" y2="137.5" stroke="#e85a56" stroke-width="1"/>
<rect x="293.5" y="131.9" width="2.6" height="3.9" fill="#e85a56"/>
<line x1="298.7" y1="124.5" x2="298.7" y2="143.7" stroke="#e85a56" stroke-width="1"/>
<rect x="297.4" y="129.4" width="2.6" height="13.0" fill="#e85a56"/>
<line x1="302.6" y1="137.0" x2="302.6" y2="151.1" stroke="#e85a56" stroke-width="1"/>
<rect x="301.3" y="138.4" width="2.6" height="10.4" fill="#e85a56"/>
<line x1="306.6" y1="140.4" x2="306.6" y2="159.7" stroke="#e85a56" stroke-width="1"/>
<rect x="305.3" y="142.3" width="2.6" height="14.3" fill="#e85a56"/>
<line x1="310.5" y1="143.6" x2="310.5" y2="156.3" stroke="#2aa092" stroke-width="1"/>
<rect x="309.2" y="144.9" width="2.6" height="10.4" fill="#2aa092"/>
<line x1="314.4" y1="136.5" x2="314.4" y2="153.0" stroke="#e85a56" stroke-width="1"/>
<rect x="313.1" y="138.4" width="2.6" height="13.0" fill="#e85a56"/>
<line x1="318.3" y1="139.2" x2="318.3" y2="157.8" stroke="#2aa092" stroke-width="1"/>
<rect x="317.0" y="142.3" width="2.6" height="14.3" fill="#2aa092"/>
<line x1="322.2" y1="138.7" x2="322.2" y2="156.1" stroke="#e85a56" stroke-width="1"/>
<rect x="320.9" y="144.9" width="2.6" height="6.5" fill="#e85a56"/>
<line x1="326.1" y1="150.8" x2="326.1" y2="168.2" stroke="#e85a56" stroke-width="1"/>
<rect x="324.8" y="152.7" width="2.6" height="13.0" fill="#e85a56"/>
<line x1="330.0" y1="161.3" x2="330.0" y2="183.2" stroke="#e85a56" stroke-width="1"/>
<rect x="328.7" y="164.4" width="2.6" height="15.6" fill="#e85a56"/>
<line x1="333.9" y1="173.1" x2="333.9" y2="195.2" stroke="#e85a56" stroke-width="1"/>
<rect x="332.6" y="174.8" width="2.6" height="14.3" fill="#e85a56"/>
<line x1="337.8" y1="182.1" x2="337.8" y2="193.2" stroke="#e85a56" stroke-width="1"/>
<rect x="336.5" y="189.1" width="2.6" height="1.0" fill="#e85a56"/>
<line x1="341.7" y1="176.9" x2="341.7" y2="194.0" stroke="#2aa092" stroke-width="1"/>
<rect x="340.4" y="180.8" width="2.6" height="11.7" fill="#2aa092"/>
<line x1="345.6" y1="179.2" x2="345.6" y2="203.3" stroke="#e85a56" stroke-width="1"/>
<rect x="344.3" y="180.8" width="2.6" height="19.5" fill="#e85a56"/>
<line x1="349.5" y1="191.2" x2="349.5" y2="215.3" stroke="#e85a56" stroke-width="1"/>
<rect x="348.2" y="193.8" width="2.6" height="15.6" fill="#e85a56"/>
<line x1="353.4" y1="184.0" x2="353.4" y2="209.2" stroke="#2aa092" stroke-width="1"/>
<rect x="352.1" y="186.0" width="2.6" height="22.1" fill="#2aa092"/>
<line x1="357.3" y1="176.7" x2="357.3" y2="188.8" stroke="#2aa092" stroke-width="1"/>
<rect x="356.0" y="183.4" width="2.6" height="1.3" fill="#2aa092"/>
<line x1="361.2" y1="177.6" x2="361.2" y2="187.6" stroke="#2aa092" stroke-width="1"/>
<rect x="359.9" y="179.5" width="2.6" height="3.9" fill="#2aa092"/>
<line x1="365.1" y1="170.5" x2="365.1" y2="186.2" stroke="#2aa092" stroke-width="1"/>
<rect x="363.8" y="171.7" width="2.6" height="10.4" fill="#2aa092"/>
<line x1="369.1" y1="160.9" x2="369.1" y2="187.0" stroke="#e85a56" stroke-width="1"/>
<rect x="367.8" y="167.8" width="2.6" height="13.0" fill="#e85a56"/>
<line x1="373.0" y1="175.6" x2="373.0" y2="214.5" stroke="#e85a56" stroke-width="1"/>
<rect x="371.7" y="180.8" width="2.6" height="31.2" fill="#e85a56"/>
<line x1="376.9" y1="208.7" x2="376.9" y2="237.3" stroke="#e85a56" stroke-width="1"/>
<rect x="375.6" y="211.9" width="2.6" height="23.4" fill="#e85a56"/>
<line x1="380.8" y1="225.8" x2="380.8" y2="239.5" stroke="#e85a56" stroke-width="1"/>
<rect x="379.5" y="231.4" width="2.6" height="3.9" fill="#e85a56"/>
<line x1="384.7" y1="228.4" x2="384.7" y2="248.7" stroke="#e85a56" stroke-width="1"/>
<rect x="383.4" y="234.0" width="2.6" height="11.7" fill="#e85a56"/>
<line x1="388.6" y1="240.8" x2="388.6" y2="255.5" stroke="#2aa092" stroke-width="1"/>
<rect x="387.3" y="243.1" width="2.6" height="6.5" fill="#2aa092"/>
<line x1="392.5" y1="219.3" x2="392.5" y2="249.2" stroke="#2aa092" stroke-width="1"/>
<rect x="391.2" y="226.2" width="2.6" height="16.9" fill="#2aa092"/>
<line x1="396.4" y1="220.4" x2="396.4" y2="238.6" stroke="#e85a56" stroke-width="1"/>
<rect x="395.1" y="226.2" width="2.6" height="6.5" fill="#e85a56"/>
<line x1="400.3" y1="229.9" x2="400.3" y2="253.3" stroke="#e85a56" stroke-width="1"/>
<rect x="399.0" y="235.3" width="2.6" height="15.6" fill="#e85a56"/>
<line x1="404.2" y1="239.0" x2="404.2" y2="252.7" stroke="#2aa092" stroke-width="1"/>
<rect x="402.9" y="243.1" width="2.6" height="6.5" fill="#2aa092"/>
<line x1="408.1" y1="234.2" x2="408.1" y2="245.6" stroke="#2aa092" stroke-width="1"/>
<rect x="406.8" y="235.3" width="2.6" height="9.1" fill="#2aa092"/>
<line x1="412.0" y1="226.2" x2="412.0" y2="240.5" stroke="#2aa092" stroke-width="1"/>
<rect x="410.7" y="228.8" width="2.6" height="9.1" fill="#2aa092"/>
<line x1="415.9" y1="223.7" x2="415.9" y2="243.4" stroke="#e85a56" stroke-width="1"/>
<rect x="414.6" y="228.8" width="2.6" height="7.8" fill="#e85a56"/>
<line x1="419.8" y1="226.4" x2="419.8" y2="241.9" stroke="#2aa092" stroke-width="1"/>
<rect x="418.5" y="230.1" width="2.6" height="5.2" fill="#2aa092"/>
<line x1="423.7" y1="219.3" x2="423.7" y2="238.2" stroke="#2aa092" stroke-width="1"/>
<rect x="422.4" y="226.2" width="2.6" height="5.2" fill="#2aa092"/>
<line x1="427.6" y1="220.4" x2="427.6" y2="233.8" stroke="#e85a56" stroke-width="1"/>
<rect x="426.3" y="223.6" width="2.6" height="7.8" fill="#e85a56"/>
<line x1="431.5" y1="223.9" x2="431.5" y2="233.6" stroke="#2aa092" stroke-width="1"/>
<rect x="430.2" y="226.2" width="2.6" height="5.2" fill="#2aa092"/>
<line x1="435.5" y1="213.6" x2="435.5" y2="233.6" stroke="#2aa092" stroke-width="1"/>
<rect x="434.2" y="215.8" width="2.6" height="13.0" fill="#2aa092"/>
<line x1="439.4" y1="204.2" x2="439.4" y2="221.9" stroke="#2aa092" stroke-width="1"/>
<rect x="438.1" y="210.6" width="2.6" height="5.2" fill="#2aa092"/>
<line x1="443.3" y1="192.5" x2="443.3" y2="214.3" stroke="#2aa092" stroke-width="1"/>
<rect x="442.0" y="196.4" width="2.6" height="13.0" fill="#2aa092"/>
<line x1="447.2" y1="191.9" x2="447.2" y2="200.5" stroke="#e85a56" stroke-width="1"/>
<rect x="445.9" y="197.7" width="2.6" height="1.3" fill="#e85a56"/>
<line x1="451.1" y1="192.7" x2="451.1" y2="208.0" stroke="#e85a56" stroke-width="1"/>
<rect x="449.8" y="197.7" width="2.6" height="3.9" fill="#e85a56"/>
<line x1="455.0" y1="185.5" x2="455.0" y2="207.1" stroke="#2aa092" stroke-width="1"/>
<rect x="453.7" y="191.2" width="2.6" height="10.4" fill="#2aa092"/>
<line x1="458.9" y1="187.3" x2="458.9" y2="203.6" stroke="#e85a56" stroke-width="1"/>
<rect x="457.6" y="191.2" width="2.6" height="10.4" fill="#e85a56"/>
<line x1="462.8" y1="195.8" x2="462.8" y2="209.7" stroke="#e85a56" stroke-width="1"/>
<rect x="461.5" y="201.6" width="2.6" height="5.2" fill="#e85a56"/>
<line x1="466.7" y1="197.1" x2="466.7" y2="224.0" stroke="#e85a56" stroke-width="1"/>
<rect x="465.4" y="202.9" width="2.6" height="14.3" fill="#e85a56"/>
<line x1="470.6" y1="207.3" x2="470.6" y2="219.3" stroke="#2aa092" stroke-width="1"/>
<rect x="469.3" y="210.6" width="2.6" height="5.2" fill="#2aa092"/>
<line x1="474.5" y1="207.9" x2="474.5" y2="251.1" stroke="#e85a56" stroke-width="1"/>
<rect x="473.2" y="214.5" width="2.6" height="31.2" fill="#e85a56"/>
<line x1="478.4" y1="238.5" x2="478.4" y2="247.5" stroke="#2aa092" stroke-width="1"/>
<rect x="477.1" y="240.5" width="2.6" height="5.2" fill="#2aa092"/>
<line x1="482.3" y1="226.9" x2="482.3" y2="246.9" stroke="#2aa092" stroke-width="1"/>
<rect x="481.0" y="228.8" width="2.6" height="11.7" fill="#2aa092"/>
<line x1="486.2" y1="221.7" x2="486.2" y2="251.5" stroke="#e85a56" stroke-width="1"/>
<rect x="484.9" y="227.5" width="2.6" height="22.1" fill="#e85a56"/>
<line x1="490.1" y1="245.0" x2="490.1" y2="287.7" stroke="#e85a56" stroke-width="1"/>
<rect x="488.8" y="250.9" width="2.6" height="29.9" fill="#e85a56"/>
<line x1="494.0" y1="279.7" x2="494.0" y2="298.2" stroke="#e85a56" stroke-width="1"/>
<rect x="492.7" y="284.7" width="2.6" height="10.4" fill="#e85a56"/>
<line x1="497.9" y1="291.0" x2="497.9" y2="377.0" stroke="#e85a56" stroke-width="1"/>
<rect x="496.6" y="305.5" width="2.6" height="24.7" fill="#e85a56"/>
<line x1="501.9" y1="322.0" x2="501.9" y2="413.0" stroke="#e85a56" stroke-width="1"/>
<rect x="500.6" y="335.3" width="2.6" height="22.1" fill="#e85a56"/>
<line x1="505.8" y1="323.6" x2="505.8" y2="374.0" stroke="#2aa092" stroke-width="1"/>
<rect x="504.5" y="336.6" width="2.6" height="27.3" fill="#2aa092"/>
<line x1="509.7" y1="326.1" x2="509.7" y2="341.5" stroke="#e85a56" stroke-width="1"/>
<rect x="508.4" y="332.7" width="2.6" height="5.2" fill="#e85a56"/>
<line x1="513.6" y1="305.7" x2="513.6" y2="342.6" stroke="#2aa092" stroke-width="1"/>
<rect x="512.3" y="311.9" width="2.6" height="24.7" fill="#2aa092"/>
<line x1="517.5" y1="309.7" x2="517.5" y2="321.0" stroke="#e85a56" stroke-width="1"/>
<rect x="516.2" y="311.9" width="2.6" height="6.5" fill="#e85a56"/>
<line x1="521.4" y1="310.5" x2="521.4" y2="318.3" stroke="#2aa092" stroke-width="1"/>
<rect x="520.1" y="313.2" width="2.6" height="2.6" fill="#2aa092"/>
<line x1="525.3" y1="310.0" x2="525.3" y2="321.0" stroke="#e85a56" stroke-width="1"/>
<rect x="524.0" y="314.5" width="2.6" height="3.9" fill="#e85a56"/>
<line x1="529.2" y1="289.0" x2="529.2" y2="322.8" stroke="#2aa092" stroke-width="1"/>
<rect x="527.9" y="292.5" width="2.6" height="28.6" fill="#2aa092"/>
<line x1="533.1" y1="287.3" x2="533.1" y2="333.3" stroke="#e85a56" stroke-width="1"/>
<rect x="531.8" y="293.8" width="2.6" height="36.4" fill="#e85a56"/>
<line x1="537.0" y1="292.6" x2="537.0" y2="334.6" stroke="#2aa092" stroke-width="1"/>
<rect x="535.7" y="296.4" width="2.6" height="33.8" fill="#2aa092"/>
<line x1="540.9" y1="284.7" x2="540.9" y2="305.1" stroke="#2aa092" stroke-width="1"/>
<rect x="539.6" y="291.2" width="2.6" height="10.4" fill="#2aa092"/>
<line x1="544.8" y1="232.7" x2="544.8" y2="300.4" stroke="#2aa092" stroke-width="1"/>
<rect x="543.5" y="239.2" width="2.6" height="57.1" fill="#2aa092"/>
<line x1="548.7" y1="238.9" x2="548.7" y2="265.4" stroke="#e85a56" stroke-width="1"/>
<rect x="547.4" y="243.1" width="2.6" height="18.2" fill="#e85a56"/>
<line x1="552.6" y1="258.9" x2="552.6" y2="272.7" stroke="#e85a56" stroke-width="1"/>
<rect x="551.3" y="260.0" width="2.6" height="9.1" fill="#e85a56"/>
<line x1="556.5" y1="255.3" x2="556.5" y2="275.3" stroke="#2aa092" stroke-width="1"/>
<rect x="555.2" y="257.4" width="2.6" height="16.9" fill="#2aa092"/>
<line x1="560.4" y1="251.6" x2="560.4" y2="277.6" stroke="#2aa092" stroke-width="1"/>
<rect x="559.1" y="257.4" width="2.6" height="18.2" fill="#2aa092"/>
<line x1="564.4" y1="248.4" x2="564.4" y2="264.1" stroke="#2aa092" stroke-width="1"/>
<rect x="563.1" y="252.2" width="2.6" height="6.5" fill="#2aa092"/>
<line x1="568.3" y1="251.8" x2="568.3" y2="263.0" stroke="#e85a56" stroke-width="1"/>
<rect x="567.0" y="256.1" width="2.6" height="3.9" fill="#e85a56"/>
<line x1="572.2" y1="254.6" x2="572.2" y2="270.8" stroke="#e85a56" stroke-width="1"/>
<rect x="570.9" y="258.7" width="2.6" height="7.8" fill="#e85a56"/>
<line x1="576.1" y1="263.4" x2="576.1" y2="278.5" stroke="#e85a56" stroke-width="1"/>
<rect x="574.8" y="269.1" width="2.6" height="7.8" fill="#e85a56"/>
<line x1="580.0" y1="272.5" x2="580.0" y2="285.9" stroke="#e85a56" stroke-width="1"/>
<rect x="578.7" y="276.9" width="2.6" height="6.5" fill="#e85a56"/>
<line x1="583.9" y1="278.1" x2="583.9" y2="302.0" stroke="#e85a56" stroke-width="1"/>
<rect x="582.6" y="280.8" width="2.6" height="15.6" fill="#e85a56"/>
<line x1="587.8" y1="289.7" x2="587.8" y2="299.4" stroke="#2aa092" stroke-width="1"/>
<rect x="586.5" y="293.8" width="2.6" height="1.3" fill="#2aa092"/>
<line x1="591.7" y1="263.5" x2="591.7" y2="302.2" stroke="#2aa092" stroke-width="1"/>
<rect x="590.4" y="269.1" width="2.6" height="26.6" fill="#2aa092"/>
<line x1="595.6" y1="258.3" x2="595.6" y2="275.1" stroke="#2aa092" stroke-width="1"/>
<rect x="594.3" y="261.9" width="2.6" height="8.4" fill="#2aa092"/>
<line x1="599.5" y1="256.4" x2="599.5" y2="280.0" stroke="#e85a56" stroke-width="1"/>
<rect x="598.2" y="260.4" width="2.6" height="15.6" fill="#e85a56"/>
<line x1="603.4" y1="253.5" x2="603.4" y2="279.9" stroke="#2aa092" stroke-width="1"/>
<rect x="602.1" y="258.6" width="2.6" height="17.5" fill="#2aa092"/>
<line x1="607.3" y1="255.7" x2="607.3" y2="278.1" stroke="#e85a56" stroke-width="1"/>
<rect x="606.0" y="259.9" width="2.6" height="14.3" fill="#e85a56"/>
<line x1="611.2" y1="261.1" x2="611.2" y2="280.1" stroke="#2aa092" stroke-width="1"/>
<rect x="609.9" y="267.7" width="2.6" height="7.1" fill="#2aa092"/>
<line x1="615.1" y1="262.8" x2="615.1" y2="284.1" stroke="#e85a56" stroke-width="1"/>
<rect x="613.8" y="269.0" width="2.6" height="8.4" fill="#e85a56"/>
<line x1="619.0" y1="271.7" x2="619.0" y2="285.1" stroke="#e85a56" stroke-width="1"/>
<rect x="617.7" y="274.2" width="2.6" height="6.5" fill="#e85a56"/>
<line x1="622.9" y1="268.9" x2="622.9" y2="284.8" stroke="#2aa092" stroke-width="1"/>
<rect x="621.6" y="275.5" width="2.6" height="3.2" fill="#2aa092"/>
<line x1="626.8" y1="269.2" x2="626.8" y2="282.4" stroke="#2aa092" stroke-width="1"/>
<rect x="625.5" y="271.0" width="2.6" height="9.7" fill="#2aa092"/>
<line x1="630.8" y1="265.4" x2="630.8" y2="279.6" stroke="#2aa092" stroke-width="1"/>
<rect x="629.5" y="269.0" width="2.6" height="9.1" fill="#2aa092"/>
<line x1="634.7" y1="241.3" x2="634.7" y2="271.1" stroke="#2aa092" stroke-width="1"/>
<rect x="633.4" y="243.7" width="2.6" height="26.0" fill="#2aa092"/>
<line x1="638.6" y1="225.0" x2="638.6" y2="248.7" stroke="#2aa092" stroke-width="1"/>
<rect x="637.3" y="230.0" width="2.6" height="13.0" fill="#2aa092"/>
<line x1="642.5" y1="217.1" x2="642.5" y2="233.2" stroke="#2aa092" stroke-width="1"/>
<rect x="641.2" y="223.5" width="2.6" height="7.8" fill="#2aa092"/>
<line x1="646.4" y1="219.5" x2="646.4" y2="241.5" stroke="#e85a56" stroke-width="1"/>
<rect x="645.1" y="224.8" width="2.6" height="11.7" fill="#e85a56"/>
<line x1="650.3" y1="230.7" x2="650.3" y2="244.1" stroke="#2aa092" stroke-width="1"/>
<rect x="649.0" y="232.6" width="2.6" height="5.2" fill="#2aa092"/>
<line x1="654.2" y1="223.2" x2="654.2" y2="241.4" stroke="#e85a56" stroke-width="1"/>
<rect x="652.9" y="230.0" width="2.6" height="9.1" fill="#e85a56"/>
<line x1="658.1" y1="220.7" x2="658.1" y2="238.6" stroke="#2aa092" stroke-width="1"/>
<rect x="656.8" y="227.4" width="2.6" height="7.8" fill="#2aa092"/>
<line x1="662.0" y1="214.4" x2="662.0" y2="238.2" stroke="#2aa092" stroke-width="1"/>
<rect x="660.7" y="218.3" width="2.6" height="13.0" fill="#2aa092"/>
<line x1="665.9" y1="207.1" x2="665.9" y2="228.1" stroke="#2aa092" stroke-width="1"/>
<rect x="664.6" y="213.1" width="2.6" height="13.0" fill="#2aa092"/>
<line x1="669.8" y1="209.5" x2="669.8" y2="228.9" stroke="#e85a56" stroke-width="1"/>
<rect x="668.5" y="213.1" width="2.6" height="11.7" fill="#e85a56"/>
<line x1="673.7" y1="214.0" x2="673.7" y2="227.0" stroke="#2aa092" stroke-width="1"/>
<rect x="672.4" y="217.0" width="2.6" height="7.8" fill="#2aa092"/>
<line x1="677.6" y1="212.8" x2="677.6" y2="228.8" stroke="#2aa092" stroke-width="1"/>
<rect x="676.3" y="215.7" width="2.6" height="7.8" fill="#2aa092"/>
<line x1="681.5" y1="202.9" x2="681.5" y2="225.2" stroke="#2aa092" stroke-width="1"/>
<rect x="680.2" y="204.0" width="2.6" height="16.9" fill="#2aa092"/>
<line x1="685.4" y1="199.1" x2="685.4" y2="209.0" stroke="#e85a56" stroke-width="1"/>
<rect x="684.1" y="202.7" width="2.6" height="5.2" fill="#e85a56"/>
<line x1="689.3" y1="185.5" x2="689.3" y2="215.3" stroke="#2aa092" stroke-width="1"/>
<rect x="688.0" y="188.4" width="2.6" height="22.1" fill="#2aa092"/>
<line x1="693.2" y1="179.2" x2="693.2" y2="192.4" stroke="#2aa092" stroke-width="1"/>
<rect x="692.0" y="183.2" width="2.6" height="7.8" fill="#2aa092"/>
<line x1="697.2" y1="147.7" x2="697.2" y2="190.3" stroke="#2aa092" stroke-width="1"/>
<rect x="695.9" y="166.4" width="2.6" height="18.2" fill="#2aa092"/>
<line x1="701.1" y1="159.5" x2="701.1" y2="171.9" stroke="#e85a56" stroke-width="1"/>
<rect x="699.8" y="166.4" width="2.6" height="3.9" fill="#e85a56"/>
<line x1="705.0" y1="165.1" x2="705.0" y2="174.1" stroke="#e85a56" stroke-width="1"/>
<rect x="703.7" y="167.7" width="2.6" height="5.2" fill="#e85a56"/>
<line x1="708.9" y1="167.2" x2="708.9" y2="187.2" stroke="#e85a56" stroke-width="1"/>
<rect x="707.6" y="172.9" width="2.6" height="11.7" fill="#e85a56"/>
<line x1="712.8" y1="172.4" x2="712.8" y2="188.1" stroke="#2aa092" stroke-width="1"/>
<rect x="711.5" y="174.2" width="2.6" height="10.4" fill="#2aa092"/>
<line x1="716.7" y1="170.3" x2="716.7" y2="200.8" stroke="#e85a56" stroke-width="1"/>
<rect x="715.4" y="176.8" width="2.6" height="18.2" fill="#e85a56"/>
<line x1="720.6" y1="182.0" x2="720.6" y2="196.8" stroke="#2aa092" stroke-width="1"/>
<rect x="719.3" y="184.5" width="2.6" height="10.4" fill="#2aa092"/>
<line x1="724.5" y1="176.7" x2="724.5" y2="192.9" stroke="#2aa092" stroke-width="1"/>
<rect x="723.2" y="183.2" width="2.6" height="5.2" fill="#2aa092"/>
<line x1="728.4" y1="179.3" x2="728.4" y2="190.0" stroke="#e85a56" stroke-width="1"/>
<rect x="727.1" y="184.5" width="2.6" height="3.9" fill="#e85a56"/>
<line x1="732.3" y1="184.5" x2="732.3" y2="194.9" stroke="#2aa092" stroke-width="1"/>
<rect x="731.0" y="185.8" width="2.6" height="3.9" fill="#2aa092"/>
<line x1="736.2" y1="181.0" x2="736.2" y2="193.8" stroke="#e85a56" stroke-width="1"/>
<rect x="734.9" y="184.5" width="2.6" height="7.8" fill="#e85a56"/>
<line x1="740.1" y1="185.7" x2="740.1" y2="212.7" stroke="#e85a56" stroke-width="1"/>
<rect x="738.8" y="192.3" width="2.6" height="15.6" fill="#e85a56"/>
<line x1="744.0" y1="187.8" x2="744.0" y2="210.7" stroke="#2aa092" stroke-width="1"/>
<rect x="742.7" y="193.6" width="2.6" height="15.6" fill="#2aa092"/>
<line x1="747.9" y1="187.5" x2="747.9" y2="201.5" stroke="#e85a56" stroke-width="1"/>
<rect x="746.6" y="193.6" width="2.6" height="6.5" fill="#e85a56"/>
<line x1="751.8" y1="195.3" x2="751.8" y2="219.4" stroke="#e85a56" stroke-width="1"/>
<rect x="750.5" y="201.4" width="2.6" height="14.3" fill="#e85a56"/>
<line x1="755.7" y1="210.1" x2="755.7" y2="220.0" stroke="#e85a56" stroke-width="1"/>
<rect x="754.4" y="213.1" width="2.6" height="2.6" fill="#e85a56"/>
<line x1="759.7" y1="191.0" x2="759.7" y2="202.7" stroke="#2aa092" stroke-width="1"/>
<rect x="758.4" y="197.5" width="2.6" height="2.6" fill="#2aa092"/>
<line x1="763.6" y1="197.1" x2="763.6" y2="206.9" stroke="#e85a56" stroke-width="1"/>
<rect x="762.3" y="198.8" width="2.6" height="3.9" fill="#e85a56"/>
<line x1="767.5" y1="200.3" x2="767.5" y2="221.3" stroke="#e85a56" stroke-width="1"/>
<rect x="766.2" y="202.7" width="2.6" height="16.9" fill="#e85a56"/>
<line x1="771.4" y1="206.0" x2="771.4" y2="218.3" stroke="#2aa092" stroke-width="1"/>
<rect x="770.1" y="207.9" width="2.6" height="9.1" fill="#2aa092"/>
<line x1="775.3" y1="207.0" x2="775.3" y2="221.2" stroke="#e85a56" stroke-width="1"/>
<rect x="774.0" y="209.2" width="2.6" height="9.1" fill="#e85a56"/>
<line x1="779.2" y1="210.3" x2="779.2" y2="236.9" stroke="#e85a56" stroke-width="1"/>
<rect x="777.9" y="213.1" width="2.6" height="18.2" fill="#e85a56"/>
<line x1="783.1" y1="207.8" x2="783.1" y2="235.3" stroke="#2aa092" stroke-width="1"/>
<rect x="781.8" y="210.5" width="2.6" height="20.8" fill="#2aa092"/>
<line x1="787.0" y1="205.9" x2="787.0" y2="216.2" stroke="#2aa092" stroke-width="1"/>
<rect x="785.7" y="207.9" width="2.6" height="5.2" fill="#2aa092"/>
<line x1="790.9" y1="204.2" x2="790.9" y2="244.2" stroke="#e85a56" stroke-width="1"/>
<rect x="789.6" y="205.3" width="2.6" height="36.4" fill="#e85a56"/>
<line x1="794.8" y1="217.2" x2="794.8" y2="248.4" stroke="#2aa092" stroke-width="1"/>
<rect x="793.5" y="218.3" width="2.6" height="24.7" fill="#2aa092"/>
<line x1="798.7" y1="186.7" x2="798.7" y2="223.0" stroke="#2aa092" stroke-width="1"/>
<rect x="797.4" y="191.0" width="2.6" height="29.9" fill="#2aa092"/>
<line x1="802.6" y1="187.2" x2="802.6" y2="200.2" stroke="#2aa092" stroke-width="1"/>
<rect x="801.3" y="191.0" width="2.6" height="2.6" fill="#2aa092"/>
<line x1="806.5" y1="184.2" x2="806.5" y2="198.3" stroke="#2aa092" stroke-width="1"/>
<rect x="805.2" y="185.8" width="2.6" height="6.5" fill="#2aa092"/>
<line x1="810.4" y1="183.5" x2="810.4" y2="206.7" stroke="#e85a56" stroke-width="1"/>
<rect x="809.1" y="187.1" width="2.6" height="15.6" fill="#e85a56"/>
<line x1="814.3" y1="195.4" x2="814.3" y2="211.3" stroke="#e85a56" stroke-width="1"/>
<rect x="813.0" y="201.4" width="2.6" height="6.5" fill="#e85a56"/>
<line x1="818.2" y1="201.3" x2="818.2" y2="218.2" stroke="#e85a56" stroke-width="1"/>
<rect x="816.9" y="205.3" width="2.6" height="7.8" fill="#e85a56"/>
<line x1="822.1" y1="184.1" x2="822.1" y2="217.5" stroke="#2aa092" stroke-width="1"/>
<rect x="820.8" y="191.0" width="2.6" height="23.4" fill="#2aa092"/>
<line x1="826.1" y1="172.0" x2="826.1" y2="197.6" stroke="#2aa092" stroke-width="1"/>
<rect x="824.8" y="187.1" width="2.6" height="5.2" fill="#2aa092"/>
<line x1="830.0" y1="170.6" x2="830.0" y2="191.9" stroke="#2aa092" stroke-width="1"/>
<rect x="828.7" y="175.5" width="2.6" height="13.0" fill="#2aa092"/>
<line x1="833.9" y1="185.4" x2="833.9" y2="201.5" stroke="#e85a56" stroke-width="1"/>
<rect x="832.6" y="188.4" width="2.6" height="11.7" fill="#e85a56"/>
<line x1="837.8" y1="197.1" x2="837.8" y2="204.2" stroke="#e85a56" stroke-width="1"/>
<rect x="836.5" y="198.8" width="2.6" height="3.9" fill="#e85a56"/>
<line x1="841.7" y1="192.1" x2="841.7" y2="204.0" stroke="#2aa092" stroke-width="1"/>
<rect x="840.4" y="197.5" width="2.6" height="3.9" fill="#2aa092"/>
<line x1="845.6" y1="195.6" x2="845.6" y2="238.0" stroke="#e85a56" stroke-width="1"/>
<rect x="844.3" y="197.5" width="2.6" height="39.0" fill="#e85a56"/>
<line x1="849.5" y1="225.3" x2="849.5" y2="258.3" stroke="#e85a56" stroke-width="1"/>
<rect x="848.2" y="231.3" width="2.6" height="20.8" fill="#e85a56"/>
<line x1="853.4" y1="235.4" x2="853.4" y2="256.1" stroke="#2aa092" stroke-width="1"/>
<rect x="852.1" y="240.4" width="2.6" height="13.0" fill="#2aa092"/>
<line x1="857.3" y1="236.6" x2="857.3" y2="249.6" stroke="#e85a56" stroke-width="1"/>
<rect x="856.0" y="239.1" width="2.6" height="7.8" fill="#e85a56"/>
<line x1="861.2" y1="236.6" x2="861.2" y2="250.1" stroke="#2aa092" stroke-width="1"/>
<rect x="859.9" y="240.4" width="2.6" height="7.8" fill="#2aa092"/>
<line x1="865.1" y1="235.4" x2="865.1" y2="253.4" stroke="#e85a56" stroke-width="1"/>
<rect x="863.8" y="239.1" width="2.6" height="11.7" fill="#e85a56"/>
<line x1="869.0" y1="240.1" x2="869.0" y2="255.0" stroke="#2aa092" stroke-width="1"/>
<rect x="867.7" y="246.9" width="2.6" height="1.3" fill="#2aa092"/>
<line x1="872.9" y1="242.6" x2="872.9" y2="251.9" stroke="#e85a56" stroke-width="1"/>
<rect x="871.6" y="246.9" width="2.6" height="2.6" fill="#e85a56"/>
<line x1="876.8" y1="241.4" x2="876.8" y2="269.2" stroke="#e85a56" stroke-width="1"/>
<rect x="875.5" y="248.2" width="2.6" height="18.2" fill="#e85a56"/>
<line x1="880.7" y1="261.3" x2="880.7" y2="270.6" stroke="#e85a56" stroke-width="1"/>
<rect x="879.4" y="264.4" width="2.6" height="5.2" fill="#e85a56"/>
<line x1="884.6" y1="259.8" x2="884.6" y2="277.4" stroke="#2aa092" stroke-width="1"/>
<rect x="883.3" y="263.1" width="2.6" height="10.4" fill="#2aa092"/>
<line x1="888.5" y1="255.2" x2="888.5" y2="270.5" stroke="#2aa092" stroke-width="1"/>
<rect x="887.2" y="259.2" width="2.6" height="9.1" fill="#2aa092"/>
<line x1="892.5" y1="252.6" x2="892.5" y2="264.1" stroke="#2aa092" stroke-width="1"/>
<rect x="891.2" y="256.6" width="2.6" height="6.5" fill="#2aa092"/>
<line x1="896.4" y1="239.8" x2="896.4" y2="259.5" stroke="#2aa092" stroke-width="1"/>
<rect x="895.1" y="242.3" width="2.6" height="15.6" fill="#2aa092"/>
<line x1="900.3" y1="231.1" x2="900.3" y2="250.1" stroke="#2aa092" stroke-width="1"/>
<rect x="899.0" y="234.5" width="2.6" height="14.3" fill="#2aa092"/>
<line x1="904.2" y1="221.7" x2="904.2" y2="238.7" stroke="#2aa092" stroke-width="1"/>
<rect x="902.9" y="222.9" width="2.6" height="13.0" fill="#2aa092"/>
<line x1="908.1" y1="206.2" x2="908.1" y2="232.6" stroke="#2aa092" stroke-width="1"/>
<rect x="906.8" y="208.6" width="2.6" height="19.5" fill="#2aa092"/>
<line x1="912.0" y1="196.6" x2="912.0" y2="218.0" stroke="#2aa092" stroke-width="1"/>
<rect x="910.7" y="200.8" width="2.6" height="11.7" fill="#2aa092"/>
<line x1="915.9" y1="202.3" x2="915.9" y2="220.4" stroke="#e85a56" stroke-width="1"/>
<rect x="914.6" y="207.3" width="2.6" height="7.8" fill="#e85a56"/>
<line x1="919.8" y1="207.5" x2="919.8" y2="219.7" stroke="#2aa092" stroke-width="1"/>
<rect x="918.5" y="213.8" width="2.6" height="2.6" fill="#2aa092"/>
<line x1="923.7" y1="213.4" x2="923.7" y2="227.2" stroke="#e85a56" stroke-width="1"/>
<rect x="922.4" y="216.4" width="2.6" height="3.9" fill="#e85a56"/>
<line x1="927.6" y1="217.1" x2="927.6" y2="233.4" stroke="#e85a56" stroke-width="1"/>
<rect x="926.3" y="219.0" width="2.6" height="9.1" fill="#e85a56"/>
<line x1="931.5" y1="220.6" x2="931.5" y2="237.1" stroke="#e85a56" stroke-width="1"/>
<rect x="930.2" y="225.5" width="2.6" height="10.4" fill="#e85a56"/>
<line x1="935.4" y1="220.7" x2="935.4" y2="244.8" stroke="#2aa092" stroke-width="1"/>
<rect x="934.1" y="226.8" width="2.6" height="11.7" fill="#2aa092"/>
<line x1="939.3" y1="225.9" x2="939.3" y2="239.9" stroke="#e85a56" stroke-width="1"/>
<rect x="938.0" y="230.6" width="2.6" height="3.9" fill="#e85a56"/>
<line x1="943.2" y1="230.0" x2="943.2" y2="245.5" stroke="#e85a56" stroke-width="1"/>
<rect x="941.9" y="235.8" width="2.6" height="7.8" fill="#e85a56"/>
<line x1="947.1" y1="235.6" x2="947.1" y2="251.6" stroke="#2aa092" stroke-width="1"/>
<rect x="945.8" y="239.7" width="2.6" height="7.8" fill="#2aa092"/>
<line x1="951.0" y1="232.4" x2="951.0" y2="249.5" stroke="#2aa092" stroke-width="1"/>
<rect x="949.7" y="238.4" width="2.6" height="5.2" fill="#2aa092"/>
<line x1="955.0" y1="229.9" x2="955.0" y2="246.8" stroke="#2aa092" stroke-width="1"/>
<rect x="953.7" y="235.8" width="2.6" height="6.5" fill="#2aa092"/>
<line x1="958.9" y1="232.1" x2="958.9" y2="270.8" stroke="#e85a56" stroke-width="1"/>
<rect x="957.6" y="238.4" width="2.6" height="27.3" fill="#e85a56"/>
<line x1="962.8" y1="264.5" x2="962.8" y2="281.1" stroke="#e85a56" stroke-width="1"/>
<rect x="961.5" y="269.6" width="2.6" height="9.1" fill="#e85a56"/>
<line x1="966.7" y1="281.4" x2="966.7" y2="297.4" stroke="#e85a56" stroke-width="1"/>
<rect x="965.4" y="282.6" width="2.6" height="13.0" fill="#e85a56"/>
<line x1="970.6" y1="275.5" x2="970.6" y2="299.8" stroke="#2aa092" stroke-width="1"/>
<rect x="969.3" y="278.7" width="2.6" height="19.5" fill="#2aa092"/>
<line x1="974.5" y1="276.6" x2="974.5" y2="292.1" stroke="#e85a56" stroke-width="1"/>
<rect x="973.2" y="282.6" width="2.6" height="5.2" fill="#e85a56"/>
<line x1="978.4" y1="277.8" x2="978.4" y2="291.3" stroke="#2aa092" stroke-width="1"/>
<rect x="977.1" y="282.6" width="2.6" height="3.9" fill="#2aa092"/>
<line x1="982.3" y1="273.6" x2="982.3" y2="298.2" stroke="#e85a56" stroke-width="1"/>
<rect x="981.0" y="278.7" width="2.6" height="15.6" fill="#e85a56"/>
<line x1="986.2" y1="285.5" x2="986.2" y2="300.1" stroke="#2aa092" stroke-width="1"/>
<rect x="984.9" y="286.5" width="2.6" height="7.8" fill="#2aa092"/>
<line x1="990.1" y1="266.7" x2="990.1" y2="290.5" stroke="#2aa092" stroke-width="1"/>
<rect x="988.8" y="272.2" width="2.6" height="14.3" fill="#2aa092"/>
<line x1="994.0" y1="271.9" x2="994.0" y2="305.7" stroke="#e85a56" stroke-width="1"/>
<rect x="992.7" y="276.1" width="2.6" height="24.7" fill="#e85a56"/>
<line x1="997.9" y1="282.5" x2="997.9" y2="308.8" stroke="#2aa092" stroke-width="1"/>
<rect x="996.6" y="283.9" width="2.6" height="19.5" fill="#2aa092"/>
<line x1="1001.8" y1="284.0" x2="1001.8" y2="304.8" stroke="#2aa092" stroke-width="1"/>
<rect x="1000.5" y="286.5" width="2.6" height="16.9" fill="#2aa092"/>
<line x1="1005.7" y1="289.1" x2="1005.7" y2="317.8" stroke="#e85a56" stroke-width="1"/>
<rect x="1004.4" y="291.7" width="2.6" height="20.8" fill="#e85a56"/>
<line x1="1009.6" y1="316.7" x2="1009.6" y2="333.5" stroke="#e85a56" stroke-width="1"/>
<rect x="1008.3" y="319.0" width="2.6" height="9.1" fill="#e85a56"/>
<line x1="1013.5" y1="322.9" x2="1013.5" y2="357.1" stroke="#e85a56" stroke-width="1"/>
<rect x="1012.2" y="329.7" width="2.6" height="23.4" fill="#e85a56"/>
<line x1="1017.4" y1="351.1" x2="1017.4" y2="377.8" stroke="#e85a56" stroke-width="1"/>
<rect x="1016.1" y="354.4" width="2.6" height="19.5" fill="#e85a56"/>
<line x1="1021.4" y1="357.1" x2="1021.4" y2="380.8" stroke="#2aa092" stroke-width="1"/>
<rect x="1020.1" y="362.2" width="2.6" height="13.0" fill="#2aa092"/>
<line x1="1025.3" y1="354.9" x2="1025.3" y2="369.7" stroke="#2aa092" stroke-width="1"/>
<rect x="1024.0" y="359.6" width="2.6" height="5.2" fill="#2aa092"/>
<line x1="1029.2" y1="330.9" x2="1029.2" y2="364.1" stroke="#2aa092" stroke-width="1"/>
<rect x="1027.9" y="332.3" width="2.6" height="29.9" fill="#2aa092"/>
<line x1="1033.1" y1="322.0" x2="1033.1" y2="340.4" stroke="#2aa092" stroke-width="1"/>
<rect x="1031.8" y="324.5" width="2.6" height="10.4" fill="#2aa092"/>
<line x1="1037.0" y1="302.2" x2="1037.0" y2="332.8" stroke="#2aa092" stroke-width="1"/>
<rect x="1035.7" y="305.1" width="2.6" height="23.4" fill="#2aa092"/>
<line x1="1040.9" y1="311.8" x2="1040.9" y2="332.4" stroke="#e85a56" stroke-width="1"/>
<rect x="1039.6" y="312.9" width="2.6" height="18.2" fill="#e85a56"/>
<line x1="1044.8" y1="306.3" x2="1044.8" y2="340.0" stroke="#2aa092" stroke-width="1"/>
<rect x="1043.5" y="309.0" width="2.6" height="26.0" fill="#2aa092"/>
<line x1="1048.7" y1="298.6" x2="1048.7" y2="314.0" stroke="#2aa092" stroke-width="1"/>
<rect x="1047.4" y="303.8" width="2.6" height="5.2" fill="#2aa092"/>
<line x1="1052.6" y1="281.5" x2="1052.6" y2="310.5" stroke="#2aa092" stroke-width="1"/>
<rect x="1051.3" y="284.3" width="2.6" height="22.1" fill="#2aa092"/>
<line x1="1056.5" y1="284.4" x2="1056.5" y2="295.9" stroke="#e85a56" stroke-width="1"/>
<rect x="1055.2" y="288.2" width="2.6" height="3.9" fill="#e85a56"/>
<line x1="1060.4" y1="287.8" x2="1060.4" y2="301.0" stroke="#e85a56" stroke-width="1"/>
<rect x="1059.1" y="289.5" width="2.6" height="5.2" fill="#e85a56"/>
<line x1="1064.3" y1="291.2" x2="1064.3" y2="311.9" stroke="#e85a56" stroke-width="1"/>
<rect x="1063.0" y="293.4" width="2.6" height="11.7" fill="#e85a56"/>
<line x1="1068.2" y1="298.4" x2="1068.2" y2="315.3" stroke="#2aa092" stroke-width="1"/>
<rect x="1066.9" y="305.1" width="2.6" height="9.1" fill="#2aa092"/>
<line x1="1072.1" y1="302.6" x2="1072.1" y2="324.0" stroke="#2aa092" stroke-width="1"/>
<rect x="1070.8" y="306.4" width="2.6" height="11.7" fill="#2aa092"/>
<line x1="1076.0" y1="295.7" x2="1076.0" y2="317.9" stroke="#2aa092" stroke-width="1"/>
<rect x="1074.7" y="302.5" width="2.6" height="11.7" fill="#2aa092"/>
<line x1="1079.9" y1="292.1" x2="1079.9" y2="309.9" stroke="#2aa092" stroke-width="1"/>
<rect x="1078.6" y="294.7" width="2.6" height="13.0" fill="#2aa092"/>
<line x1="1083.8" y1="282.8" x2="1083.8" y2="303.4" stroke="#2aa092" stroke-width="1"/>
<rect x="1082.5" y="289.5" width="2.6" height="11.7" fill="#2aa092"/>
<line x1="1087.8" y1="287.6" x2="1087.8" y2="314.7" stroke="#e85a56" stroke-width="1"/>
<rect x="1086.5" y="292.1" width="2.6" height="20.8" fill="#e85a56"/>
<line x1="1091.7" y1="310.0" x2="1091.7" y2="326.1" stroke="#e85a56" stroke-width="1"/>
<rect x="1090.4" y="314.2" width="2.6" height="5.2" fill="#e85a56"/>
<line x1="1095.6" y1="316.3" x2="1095.6" y2="334.4" stroke="#e85a56" stroke-width="1"/>
<rect x="1094.3" y="318.1" width="2.6" height="10.4" fill="#e85a56"/>
<line x1="1099.5" y1="317.9" x2="1099.5" y2="337.4" stroke="#2aa092" stroke-width="1"/>
<rect x="1098.2" y="321.9" width="2.6" height="9.1" fill="#2aa092"/>
<line x1="1103.4" y1="312.8" x2="1103.4" y2="329.5" stroke="#2aa092" stroke-width="1"/>
<rect x="1102.1" y="318.1" width="2.6" height="9.1" fill="#2aa092"/>
<line x1="1107.3" y1="313.0" x2="1107.3" y2="353.1" stroke="#e85a56" stroke-width="1"/>
<rect x="1106.0" y="319.4" width="2.6" height="29.9" fill="#e85a56"/>
<line x1="1111.2" y1="320.8" x2="1111.2" y2="354.1" stroke="#2aa092" stroke-width="1"/>
<rect x="1109.9" y="321.9" width="2.6" height="31.2" fill="#2aa092"/>
<line x1="1115.1" y1="315.4" x2="1115.1" y2="343.8" stroke="#e85a56" stroke-width="1"/>
<rect x="1113.8" y="319.4" width="2.6" height="20.8" fill="#e85a56"/>
<line x1="1119.0" y1="333.4" x2="1119.0" y2="343.3" stroke="#2aa092" stroke-width="1"/>
<rect x="1117.7" y="336.2" width="2.6" height="5.2" fill="#2aa092"/>
<line x1="1122.9" y1="331.9" x2="1122.9" y2="356.0" stroke="#e85a56" stroke-width="1"/>
<rect x="1121.6" y="334.9" width="2.6" height="18.2" fill="#e85a56"/>
<line x1="1126.8" y1="343.2" x2="1126.8" y2="368.4" stroke="#e85a56" stroke-width="1"/>
<rect x="1125.5" y="349.2" width="2.6" height="18.2" fill="#e85a56"/>
<line x1="1130.7" y1="363.2" x2="1130.7" y2="387.7" stroke="#e85a56" stroke-width="1"/>
<rect x="1129.4" y="368.7" width="2.6" height="13.0" fill="#e85a56"/>
<line x1="1134.6" y1="370.9" x2="1134.6" y2="386.9" stroke="#2aa092" stroke-width="1"/>
<rect x="1133.3" y="372.6" width="2.6" height="7.8" fill="#2aa092"/>
<line x1="1138.5" y1="353.0" x2="1138.5" y2="379.0" stroke="#2aa092" stroke-width="1"/>
<rect x="1137.2" y="358.3" width="2.6" height="14.3" fill="#2aa092"/>
<line x1="1142.4" y1="355.6" x2="1142.4" y2="369.3" stroke="#e85a56" stroke-width="1"/>
<rect x="1141.1" y="358.3" width="2.6" height="7.8" fill="#e85a56"/>
<line x1="1146.3" y1="347.2" x2="1146.3" y2="374.4" stroke="#2aa092" stroke-width="1"/>
<rect x="1145.0" y="350.5" width="2.6" height="16.9" fill="#2aa092"/>
<line x1="1150.3" y1="346.0" x2="1150.3" y2="384.9" stroke="#e85a56" stroke-width="1"/>
<rect x="1149.0" y="350.5" width="2.6" height="31.2" fill="#e85a56"/>
<line x1="1154.2" y1="371.6" x2="1154.2" y2="386.9" stroke="#2aa092" stroke-width="1"/>
<rect x="1152.9" y="375.2" width="2.6" height="9.1" fill="#2aa092"/>
<line x1="1158.1" y1="368.7" x2="1158.1" y2="376.8" stroke="#2aa092" stroke-width="1"/>
<rect x="1156.8" y="370.0" width="2.6" height="5.2" fill="#2aa092"/>
<line x1="1162.0" y1="357.5" x2="1162.0" y2="374.0" stroke="#2aa092" stroke-width="1"/>
<rect x="1160.7" y="363.5" width="2.6" height="7.8" fill="#2aa092"/>
<line x1="1165.9" y1="360.8" x2="1165.9" y2="377.7" stroke="#e85a56" stroke-width="1"/>
<rect x="1164.6" y="367.4" width="2.6" height="7.8" fill="#e85a56"/>
<line x1="1169.8" y1="372.6" x2="1169.8" y2="383.2" stroke="#e85a56" stroke-width="1"/>
<rect x="1168.5" y="375.2" width="2.6" height="3.9" fill="#e85a56"/>
<line x1="1173.7" y1="371.8" x2="1173.7" y2="384.9" stroke="#2aa092" stroke-width="1"/>
<rect x="1172.4" y="373.9" width="2.6" height="7.8" fill="#2aa092"/>
<line x1="1177.6" y1="365.9" x2="1177.6" y2="385.4" stroke="#e85a56" stroke-width="1"/>
<rect x="1176.3" y="372.6" width="2.6" height="6.5" fill="#e85a56"/>
<line x1="1181.5" y1="377.1" x2="1181.5" y2="399.9" stroke="#e85a56" stroke-width="1"/>
<rect x="1180.2" y="383.0" width="2.6" height="16.9" fill="#e85a56"/></g>
<line x1="693.5" y1="147.7" x2="1335" y2="285.3" stroke="#4aa0dc" stroke-width="1"/>
<line x1="923.6" y1="195.6" x2="1236" y2="366" stroke="#4aa0dc" stroke-width="1"/>
<rect x="695.8" y="408.2" width="10" height="10" rx="2.5" fill="#fff" stroke="#2962ff" stroke-width="1.6"/>
</svg>
<!-- frame lines -->
<div class="ln" style="left:0;top:0;width:1.6px;height:616px;background:#7f7f7f"></div>
<div class="ln" style="left:0;top:10px;width:1403px;height:1px"></div>
<div class="ln" style="left:1402px;top:0;width:1px;height:616px"></div>
<div class="ln" style="left:10px;top:10px;width:1px;height:606px;background:#eceef2"></div>
<div class="ln" style="left:58px;top:10px;width:1px;height:601px"></div>
<div class="ln" style="left:58px;top:43px;width:1339px;height:1px"></div>
<div class="ln" style="left:1343px;top:44px;width:1px;height:535px"></div>
<div class="ln" style="left:58px;top:446px;width:1339px;height:1px"></div>
<div class="ln" style="left:58px;top:555px;width:1339px;height:1px"></div>
<div class="ln" style="left:58px;top:579px;width:1339px;height:1px"></div>
<div class="ln" style="left:10px;top:611px;width:1392px;height:1px"></div>
<!-- left toolbar separators -->
<div class="ln" style="left:10px;top:267px;width:48px;height:1px"></div>
<div class="ln" style="left:10px;top:339px;width:48px;height:1px"></div>
<div class="ln" style="left:10px;top:473px;width:48px;height:1px"></div>
<!-- header separators -->
<div class="ln" style="left:144px;top:11px;width:1px;height:32px"></div>
<div class="ln" style="left:176px;top:11px;width:1px;height:32px"></div>
<div class="ln" style="left:209px;top:11px;width:1px;height:32px"></div>
<div class="ln" style="left:302px;top:11px;width:1px;height:32px"></div>
<div class="ln" style="left:392px;top:11px;width:1px;height:32px"></div>
<div class="ln" style="left:446px;top:11px;width:1px;height:32px"></div>
<div class="ln" style="left:1217px;top:11px;width:1px;height:32px"></div>
<div class="ln" style="left:1251px;top:11px;width:1px;height:32px"></div>
<div class="ln" style="left:1331px;top:11px;width:1px;height:32px"></div>
<div class="ln" style="left:1364px;top:11px;width:1px;height:32px"></div>
<!-- bottom bar separators -->
<div class="ln" style="left:193px;top:580px;width:1px;height:31px"></div>
<div class="ln" style="left:430px;top:585px;width:1px;height:22px"></div>
<div class="ln" style="left:1298px;top:585px;width:1px;height:22px"></div>

<!-- header text -->
<div class="a" style="left:66.5px;top:21px;font-size:10.8px;font-weight:bold;color:#2e3039">NZDCHF</div>
<div class="a" style="left:155px;top:21.5px;font-size:11px;color:#3a3d46">W</div>
<div class="a" style="left:240px;top:20.5px;font-size:12px;color:#3a3d46">Confronta</div>
<div class="a" style="left:332px;top:20.5px;font-size:12.3px;color:#3a3d46">Indicatori</div>
<div class="a" style="left:1281px;top:21px;font-size:11px;color:#3a3d46">Salva</div>

<!-- legend -->
<div class="a" style="left:66.5px;top:51.5px;font-size:12.3px;color:#131722">NZDCHF <span style="color:#b2b5be">·</span> 1W</div>
<div class="a" style="left:185.5px;top:53.5px;font-size:11.4px;color:#787b86">O - Aper.<span style="color:#ef5350">0.54623</span> H - Max.<span style="color:#ef5350">0.54880</span> L - Min.<span style="color:#ef5350">0.53673</span> C - Chius.<span style="color:#ef5350">0.53675</span> <span style="color:#ef5350">−0.01187 (−2.16%)</span></div>
<div class="a" style="left:66px;top:71.5px;font-size:10.6px;color:#50535e">EMA 21 close 0 <span style="color:#4a90d9;margin-left:2.5px">0.55771</span></div>
<div class="a" style="left:66px;top:92px;font-size:10.6px;color:#50535e">EMA 100 close 0 <span style="color:#3cbad8;margin-left:2.5px">0.59156</span></div>
<div class="a" style="left:66px;top:112.5px;font-size:10.6px;color:#50535e">EMA 200 close 0 <span style="color:#e8b84a;margin-left:2.5px">0.61286</span></div>
<div class="a" style="left:66px;top:454px;font-size:11px;color:#50535e">Stoch <span style="color:#868993">10 6 3</span> <span style="color:#4a90d9;margin-left:3px">28.82</span> <span style="color:#f0923b;margin-left:2px">31.39</span></div>

<div style="position:absolute;left:158.5px;top:52.5px;width:11px;height:11px;border-radius:50%;background:#d8efec"></div>
<div style="position:absolute;left:161px;top:55px;width:6px;height:6px;border-radius:50%;background:#089981"></div>
<!-- title -->
<div class="a" style="left:793.5px;top:111px;font-size:22px;font-weight:bold;color:#0a0a0a;letter-spacing:0.64px;-webkit-text-stroke:0.5px #0a0a0a">Grafico: NZD/CHF Weekly / Fonte: ActivTrader</div>

<!-- price axis -->
<div class="ax" style="left:1351px;top:63.8px">0.72000</div>
<div class="ax" style="left:1351px;top:99.8px">0.70000</div>
<div class="ax" style="left:1351px;top:135.8px">0.68000</div>
<div class="ax" style="left:1351px;top:171.8px">0.66000</div>
<div class="ax" style="left:1351px;top:207.8px">0.64000</div>
<div class="ax" style="left:1351px;top:243.8px">0.62000</div>
<div class="ax" style="left:1351px;top:279.8px">0.60000</div>
<div class="ax" style="left:1351px;top:315.8px">0.58000</div>
<div class="ax" style="left:1351px;top:351.8px">0.56000</div>
<div class="ax" style="left:1351px;top:387.8px">0.54000</div>
<div class="ax" style="left:1351px;top:423.8px">0.52000</div>
<div class="ax" style="left:1351px;top:467.5px">75.00</div>
<div class="ax" style="left:1351px;top:494px">50.00</div>
<div class="ax" style="left:1351px;top:520.2px">25.00</div>
<div class="ax" style="left:1351px;top:546.5px">0.00</div>
<div class="a" style="left:1297px;top:393px;width:96px;height:15px;background:#ef5350;border-radius:2px;color:#fff;font-size:10.5px;line-height:15px;padding-left:4px">NZDCHF <span style="opacity:.6">-</span> 0.53675</div>
<div class="a" style="left:1343px;top:408px;width:50px;height:14px;background:#2196f3;border-radius:0 2px 2px 0;color:#fff;font-size:10.5px;line-height:14px;padding-left:8px">0.52984</div>

<div style="position:absolute;left:1344px;top:556px;width:53px;height:23px;background:#fff"></div>
<!-- time axis -->
<div class="tl" style="left:62px;top:561px;font-weight:bold;color:#131722;">18</div>
<div class="tl" style="left:139.5px;top:561px;">Giu</div>
<div class="tl" style="left:260.2px;top:561px;font-weight:bold;color:#131722;">2019</div>
<div class="tl" style="left:342.9px;top:561px;">Giu</div>
<div class="tl" style="left:464.2px;top:561px;font-weight:bold;color:#131722;">2020</div>
<div class="tl" style="left:548.8px;top:561px;">Giu</div>
<div class="tl" style="left:665.8px;top:561px;font-weight:bold;color:#131722;">2021</div>
<div class="tl" style="left:752px;top:561px;">Giu</div>
<div class="tl" style="left:869px;top:561px;font-weight:bold;color:#131722;">2022</div>
<div class="tl" style="left:954.8px;top:561px;">Giu</div>
<div class="tl" style="left:1072.8px;top:561px;font-weight:bold;color:#131722;">2023</div>
<div class="tl" style="left:1142.9px;top:561px;">Maggio</div>
<div class="tl" style="left:1213.6px;top:561px;">Set</div>
<div class="tl" style="left:1283.7px;top:561px;font-weight:bold;color:#131722;">2024</div>

<!-- bottom bar -->
<div class="a" style="left:72px;top:590px;font-size:10px;color:#787b86">Powered by <span style="color:#3d8fd8">TradingView</span></div>
<div class="a" style="left:207.4px;top:590px;font-size:11px;color:#131722">1D</div>
<div class="a" style="left:233px;top:590px;font-size:11px;color:#131722">5D</div>
<div class="a" style="left:259px;top:590px;font-size:11px;color:#131722">1M</div>
<div class="a" style="left:285px;top:590px;font-size:11px;color:#131722">3M</div>
<div class="a" style="left:311px;top:590px;font-size:11px;color:#131722">6M</div>
<div class="a" style="left:338.4px;top:590px;font-size:11px;color:#131722">1Y</div>
<div class="a" style="left:362.7px;top:590px;font-size:11px;color:#131722">5Y</div>
<div class="a" style="left:388.7px;top:590px;font-size:11px;color:#131722">Tutto</div>
<div class="a" style="left:1191px;top:590px;font-size:11.5px;color:#3a3d46">07:30:55 (UTC+2)</div>
<div class="a" style="left:1313px;top:589px;font-size:13px;color:#131722">%</div>
<div class="a" style="left:1336px;top:589px;font-size:12px;color:#3a3d46">log</div>

<svg width="1403" height="616" style="position:absolute;left:0;top:0;pointer-events:none" fill="none" stroke="#131722" stroke-width="1.1" stroke-linecap="round" stroke-linejoin="round">
<!-- left toolbar -->
<g stroke="#a8c2d8" stroke-width="1.3" stroke-linecap="butt">
<path d="M25 32h6.5M37.5 32h6.5M34.5 22.5v6.5M34.5 35v6.5"/>
</g>
<path d="M25.7 62.6h7.1M36.2 62.6h7"/><circle cx="34.5" cy="62.6" r="1.7"/>
<!-- pitchfork -->
<path d="M28.5 89.2l6-4.7M28.4 98.8l10.6-10.6M37.2 98.8l6.8-5.6M29 91.4l5.9 6.7"/>
<circle cx="27.2" cy="90.4" r="1.7"/><circle cx="27.2" cy="99.9" r="1.7"/><circle cx="35.9" cy="99.9" r="1.7"/>
<!-- brush -->
<path d="M24.9 130.6H33.4C36 130.6 37.8 128 36.9 125.5C36 122.5 33.5 121 31.2 122C29.2 123 28 126 24.9 130.6Z"/><path d="M37.6 117.2C36 119 36.2 121 37.5 122C38.5 122.8 39.5 122.5 40.5 121.5L45.4 117.4"/>
<!-- T -->
<path d="M29.4 147.5h11M34.9 147.5v14M32.5 161.4h5" stroke="#50535e"/>
<!-- pattern -->
<path d="M29.8 177.7L27.3 192L39.7 178.75L42.7 189.7Z"/>
<circle cx="29.8" cy="177.7" r="1.8" fill="#fff"/><circle cx="39.7" cy="178.75" r="1.8" fill="#fff"/><circle cx="27.3" cy="192" r="1.8" fill="#fff"/><circle cx="42.7" cy="189.7" r="1.8" fill="#fff"/>
<!-- fib -->
<path d="M27.5 209h15M27.5 217.7h12.8M27.5 222.6h15"/>
<path d="M28 215.5l13-5" stroke-dasharray="1.5,1.5" stroke-width="0.8" stroke="#787b86"/>
<circle cx="25.7" cy="209" r="1.7"/><circle cx="25.7" cy="217.7" r="1.7"/><circle cx="25.7" cy="222.6" r="1.7"/><circle cx="42" cy="217.7" r="1.7"/>
<!-- smiley -->
<circle cx="34.5" cy="246.2" r="6.6"/><path d="M31.5 248.3c1.8 1.8 4.2 1.8 6 0"/><circle cx="32.2" cy="244.5" r="0.5" fill="#131722"/><circle cx="36.8" cy="244.5" r="0.5" fill="#131722"/>
<!-- ruler -->
<g transform="translate(34.3 287.7) rotate(-40)"><rect x="-11" y="-3.2" width="22" height="6.4" rx="0.8"/><path d="M-7 -3.2v2.5M-4 -3.2v2.5M-1 -3.2v2.5M2 -3.2v2.5M5 -3.2v2.5M8 -3.2v2.5" stroke-width="0.9"/></g>
<!-- zoom -->
<circle cx="33" cy="318.2" r="6.2"/><path d="M37.5 322.7l2.8 2.8M33 315.3v5.8M30.1 318.2h5.8"/>
<!-- magnet -->
<path d="M28.3 367.5v-8.5a6 6 0 0 1 12 0v8.5h-3.6v-8.5a2.4 2.4 0 0 0 -4.8 0v8.5z"/><path d="M28.3 364.5h3.6M36.7 364.5h3.6"/>
<!-- pencil lock -->
<path d="M26 394.5l1-3.6 9.6-9.6 2.6 2.6-9.6 9.6z M35.2 382.7l2.6 2.6"/>
<rect x="36.5" y="394" width="6.6" height="5" rx="0.6"/><path d="M38 394v-1.8a1.8 1.8 0 0 1 3.4 -0.7"/>
<!-- lock -->
<rect x="28.3" y="421.2" width="12.4" height="8.6" rx="1.2"/><path d="M31.2 421.2v-2.8a3.3 3.3 0 0 1 6.5 -1"/><circle cx="34.5" cy="425.3" r="0.8" fill="#131722"/>
<!-- eye -->
<path d="M26.5 449.8c2-3.2 4.6-4.8 7.6-4.8s5.6 1.6 7.6 4.8c-2 3.2-4.6 4.8-7.6 4.8s-5.6-1.6-7.6-4.8z"/><circle cx="34.1" cy="449.8" r="2.3"/>
<path d="M35.5 461l2.2-2.2 3-1.5-1.4 3z" stroke-width="1" fill="#131722"/>
<!-- trash -->
<path d="M27.4 489h14.2M31.5 489v-1.8h6v1.8M29 489.5l0.9 12.5h9.2l0.9-12.5M32.4 492v7M36.6 492v7"/>
<!-- collapse chevron left -->
<path d="M4 315l4.5 5.5L4 326" stroke-width="1.4" stroke="#2a2e39"/>

<!-- header icons -->
<g stroke-width="1.1">
<rect x="188.2" y="21" width="4" height="12" rx="0.8"/><path d="M190.2 19v2M190.2 33v2.5"/>
<rect x="195.3" y="23.8" width="4" height="6.8" rx="0.8"/><path d="M197.3 21.5v2.3M197.3 30.6v2.2"/>
<circle cx="225.4" cy="27.7" r="7.6"/><path d="M221.7 27.7h7.9M225.4 24v7.5"/>
<path d="M320 21.2c-1.4-0.8-3.3-0.5-3.7 1.4l-1.8 9.2c-0.4 1.8-2.2 2.2-3.5 1.4M314.2 25.2h4.6" stroke-width="1.2"/>
<path d="M319.5 29.5l4 4M323.5 29.5l-4 4" stroke-width="1"/>
<path d="M405 23.8l-3.5 3.3 3.5 3.3M401.7 27.1h6.3a4.5 4.5 0 0 1 4.5 4.5"/>
<path d="M432 23.8l3.5 3.3-3.5 3.3M435.2 27.1h-6.3a4.5 4.5 0 0 0 -4.5 4.5" stroke="#c9cbd1"/>
<rect x="1227" y="20.8" width="15.6" height="13.6" rx="2" stroke="#3a3d46"/>
<path d="M1261 33.6h14.5a3.2 3.2 0 0 0 0.6 -6.3 6 6 0 0 0 -11.4 -1.6 4 4 0 0 0 -3.7 7.9z" stroke-dasharray="2,1.5"/>
<path d="M1319.6 26.3l3.2 3 3.2-3" stroke="#50535e"/>
<path d="M1346.2 19.6h4.2l0.6 2.3 2.1 1.2 2.3-0.7 2.1 3.6-1.7 1.6v2.4l1.7 1.6-2.1 3.6-2.3-0.7-2.1 1.2-0.6 2.3h-4.2l-0.6-2.3-2.1-1.2-2.3 0.7-2.1-3.6 1.7-1.6v-2.4l-1.7-1.6 2.1-3.6 2.3 0.7 2.1-1.2z" transform="translate(1348.3 27.3) scale(0.9) translate(-1348.3 -28.5)"/>
<circle cx="1348.3" cy="27.3" r="2.4"/>
<path d="M1372 22.8h4.5l1.8-2.5h5.4l1.8 2.5h4.5a0.6 .6 0 0 1 .6 .6v10.2a.6 .6 0 0 1 -.6 .6h-18a.6 .6 0 0 1 -.6 -.6v-10.2a.6 .6 0 0 1 .6 -.6z"/>
<circle cx="1381" cy="28" r="3.3"/>
<!-- bottom bar icon -->
<path d="M446 600h-0.5a1 1 0 0 1 -1 -1v-0.5M444.5 594.5v-3a1 1 0 0 1 1 -1h12a1 1 0 0 1 1 1v8.5a1 1 0 0 1 -1 1h-4M444.5 593.5h14M443.5 597.5h6.5M448 595.5l2 2-2 2" stroke-width="1"/>
<path d="M1391 600l3-3 3 3" stroke="#9598a1"/>
</g>
</svg>
<!-- floating toolbar -->
<div style="position:absolute;left:573px;top:57px;width:326px;height:33px;background:#fff;border-radius:5px;box-shadow:0 1px 4px rgba(0,0,0,0.22)"></div>
<svg width="1403" height="616" style="position:absolute;left:0;top:0" fill="none" stroke="#131722" stroke-width="1.1" stroke-linecap="round" stroke-linejoin="round">
<g fill="#b2b5be" stroke="none"><circle cx="580.5" cy="69" r="0.9"/><circle cx="586.2" cy="69" r="0.9"/><circle cx="580.5" cy="73.3" r="0.9"/><circle cx="586.2" cy="73.3" r="0.9"/><circle cx="580.5" cy="77.5" r="0.9"/><circle cx="586.2" cy="77.5" r="0.9"/></g>
<g stroke="#eef0f3" stroke-width="1" shape-rendering="crispEdges"><path d="M594.5 57v33M627.5 57v33M660.5 57v33M719.5 57v33M752.5 57v33M785.5 57v33M833.5 57v33M867.5 57v33"/></g>
<rect x="604" y="67" width="5" height="5" rx="1.5"/><rect x="611.5" y="67" width="5" height="5" rx="1.5"/><rect x="604" y="74.8" width="5" height="5" rx="1.5"/><path d="M611.5 77.3h5.2M614.1 74.7v5.2"/>
<path d="M637.3 76l1-3.5 9.5-9.5 2.5 2.5-9.5 9.5z M646.3 64.3l2.5 2.5M638.3 72.5l2.5 2.5"/>
<rect x="634.5" y="80.5" width="18.5" height="2.6" rx="1.3" fill="#2196f3" stroke="none"/>
<path d="M669.5 73.3h14.5" stroke-width="2" stroke-linecap="butt"/>
<path d="M726 73.3h19" stroke-dasharray="1.6,2.2" stroke-width="1.4" stroke-linecap="butt"/>
<path d="M766.7 64.7h4.2l0.6 2.3 2.1 1.2 2.3-0.7 2.1 3.6-1.7 1.6v2.4l1.7 1.6-2.1 3.6-2.3-0.7-2.1 1.2-0.6 2.3h-4.2l-0.6-2.3-2.1-1.2-2.3 0.7-2.1-3.6 1.7-1.6v-2.4l-1.7-1.6 2.1-3.6 2.3 0.7 2.1-1.2z"/>
<circle cx="768.8" cy="73.2" r="2.4"/>
<rect x="802.2" y="72.6" width="13.6" height="8.6" rx="1.3"/><path d="M805.2 72.6v-3a3.5 3.5 0 0 1 7 -1.2"/><circle cx="809" cy="76.9" r="0.9" fill="#131722"/>
<path d="M842.7 68h14M846.5 68v-1.8h6.5v1.8M844.2 68.5l0.9 12.5h9.2l0.9-12.5M848 71.5v6.5M851.6 71.5v6.5"/>
<circle cx="877.3" cy="73.8" r="1.9"/><circle cx="883.4" cy="73.8" r="1.9"/><circle cx="889.5" cy="73.8" r="1.9"/>
</svg>
<div class="a" style="left:691px;top:67px;font-size:11.5px;color:#131722">1px</div>
<!-- chat bubble -->
<div style="position:absolute;left:1349px;top:559px;width:47px;height:47px;border-radius:50%;background:#111c30;box-shadow:0 1px 3px rgba(0,0,0,.25)"></div>
<svg width="1403" height="616" style="position:absolute;left:0;top:0">
<path d="M1362.5 573.5h19.5a1 1 0 0 1 1 1v13.3a1 1 0 0 1 -1 1h-15.5l-4 4v-18.3a1 1 0 0 1 1 -1z" fill="none" stroke="#fff" stroke-width="2" stroke-linejoin="round"/>
</svg>
<!-- legend collapse button -->
<div style="position:absolute;left:64px;top:130px;width:27px;height:20px;background:rgba(255,255,255,.75);border:1px solid #eceef2;border-radius:3px"></div>
<svg width="1403" height="616" style="position:absolute;left:0;top:0"><path d="M74 141.5l3.5-3.5 3.5 3.5" fill="none" stroke="#131722" stroke-width="1.4"/></svg>
<!-- time axis left scroll handle -->
<div style="position:absolute;left:53px;top:541px;width:7px;height:21px;background:#fff;border:1px solid #e0e3eb;border-radius:4px"></div>
<div style="position:absolute;left:708px;top:614px;width:6px;height:6px;border-radius:50%;background:#111"></div>

</body></html>
